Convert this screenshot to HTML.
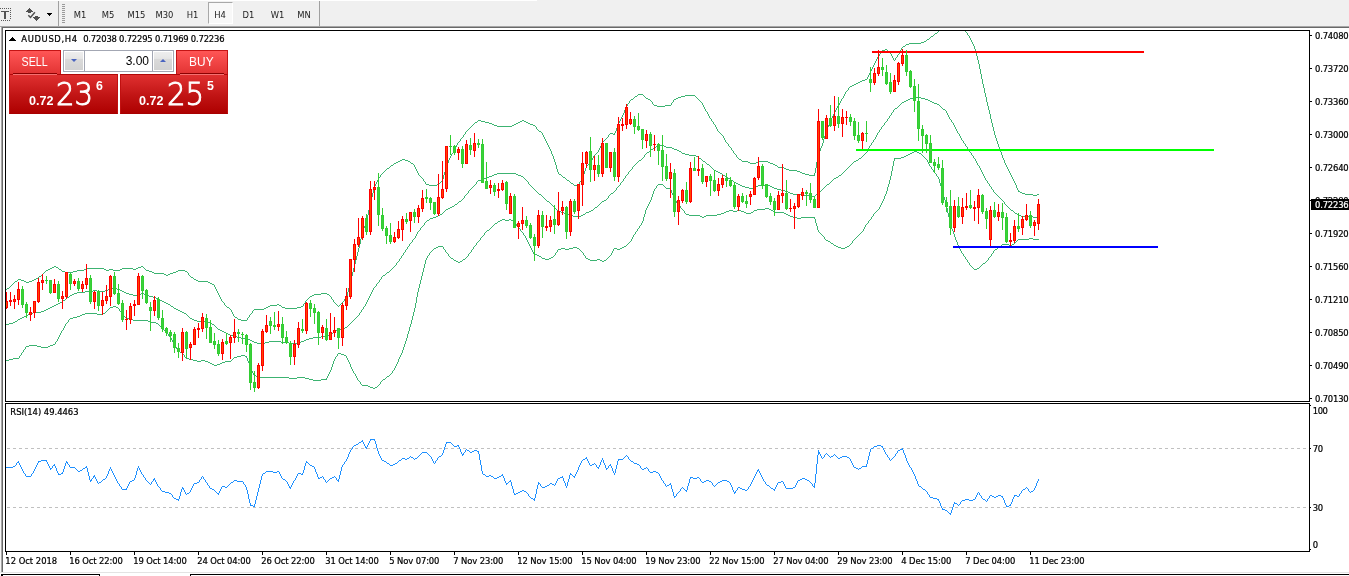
<!DOCTYPE html>
<html lang="en"><head><meta charset="utf-8"><title>AUDUSD,H4</title>
<style>
html,body{margin:0;padding:0;background:#fff;}
body{width:1349px;height:576px;overflow:hidden;font-family:"Liberation Sans",sans-serif;}
#app{position:relative;width:1349px;height:576px;overflow:hidden;background:#fff;}
#toolbar{position:absolute;left:0;top:0;width:1349px;height:26px;background:linear-gradient(#fff,#fff) 0 0/537px 1px no-repeat #f0f0f0;padding-top:1px;box-sizing:border-box;}
#tb-shadow{position:absolute;left:0;top:26px;width:1349px;height:2px;background:linear-gradient(#a6a6a6 0,#a6a6a6 1px,#696969 1px,#696969 2px);}
#left-edge{position:absolute;left:0;top:27px;width:3px;height:545px;background:linear-gradient(90deg,#f6f6f6 0,#f6f6f6 1px,#a6a6a6 1px,#a6a6a6 2px,#696969 2px,#696969 3px);}
.tf{position:absolute;top:2px;width:25px;height:22px;line-height:26px;text-align:center;font-family:"DejaVu Sans Condensed","Liberation Sans",sans-serif;font-size:9.33px;color:#222;box-sizing:border-box;}
.tf b{font-weight:normal;}
.tf.on{border:1px solid #a8a8a8;border-right-color:#fff;border-bottom-color:#fff;background:#f8f8f8;line-height:24px;}
.sep{position:absolute;top:1px;width:1px;height:25px;background:#a0a0a0;}
#grip{position:absolute;left:62px;top:4px;width:3px;height:20px;background:repeating-linear-gradient(#9a9a9a 0,#9a9a9a 1px,#f0f0f0 1px,#f0f0f0 2px);}
svg{position:absolute;left:0;top:0;}
svg text{font-family:"DejaVu Sans Condensed","Liberation Sans",sans-serif;}
.ax{font-size:9.33px;fill:#000;stroke:#000;stroke-width:0.22px;}
.lvl{fill:none;stroke:#c0c0c0;stroke-width:1;stroke-dasharray:3 3;shape-rendering:crispEdges;}
#chart path, #chart rect{shape-rendering:crispEdges;}
#panel{position:absolute;left:9px;top:50px;width:219px;height:64px;}
.btn-top{position:absolute;top:0;height:25px;width:52px;box-sizing:border-box;border:1px solid #c41414;border-bottom:0;background:linear-gradient(#ff5656,#e13232);color:#fff;font-size:12px;text-align:center;line-height:22px;}
.btn-top b{display:inline-block;font-weight:normal;transform:scaleX(0.92);}
.btn-top i{position:absolute;left:3px;right:3px;top:22px;height:1px;background:#8a0000;box-shadow:0 1px 0 #f47070;z-index:2;}
.btn-low{position:absolute;top:24px;height:40px;width:109px;box-sizing:border-box;border:1px solid #c01010;border-top-color:#b00808;border-bottom-color:#a80000;background:linear-gradient(#e03030,#c01414 55%,#ae0000);color:#fff;}
.sm{position:absolute;font-weight:bold;font-size:13px;line-height:13px;transform-origin:0 0;transform:scaleX(0.97);}
.big{position:absolute;font-family:"DejaVu Sans Light","DejaVu Sans ExtraLight","DejaVu Sans","Liberation Sans",sans-serif;font-weight:200;font-size:32.6px;line-height:34px;transform-origin:0 0;transform:scaleX(0.895);-webkit-text-stroke:1px #fff;}
.sup{position:absolute;font-weight:bold;font-size:13px;line-height:13px;transform-origin:0 0;transform:scaleX(0.95);}
#vol{position:absolute;left:54px;top:0;width:111px;height:22px;box-sizing:border-box;border:1px solid #a3a7b3;background:#fff;}
.spin{position:absolute;top:1px;width:18px;height:18px;background:linear-gradient(#eeeeee 0,#e6e6e6 36%,#dadada 37%,#d2d2d2 100%);}
.spin:after{content:"";position:absolute;left:6px;top:7px;border:3px solid transparent;}
.spin.dn:after{border-top:3px solid #4a64c0;border-bottom:0;}
.spin.up:after{border-bottom:3px solid #4a64c0;border-top:0;}
#volv{position:absolute;left:20px;top:0;width:69px;height:20px;border-left:1px solid #a3a7b3;border-right:1px solid #a3a7b3;font-size:12px;line-height:21px;text-align:right;padding-right:3px;box-sizing:border-box;color:#000;}
#bottom-line{position:absolute;left:0;top:572px;width:1349px;height:1px;background:#e3e3e3;}
.tabline{position:absolute;top:574px;height:1px;background:#000;}
</style></head>
<body>
<div id="app">
  <div id="toolbar">
    <svg width="60" height="26" viewBox="0 0 60 26" style="top:0" shape-rendering="crispEdges">
      <path d="M0 8h1v1h-1zM2 8h1v1h-1zM4 8h1v1h-1zM6 8h1v1h-1zM8 8h1v1h-1zM10 8h1v1h-1zM10 10h1v1h-1zM10 12h1v1h-1zM10 14h1v1h-1zM10 16h1v1h-1zM10 18h1v1h-1zM1 20h1v1h-1zM3 20h1v1h-1zM5 20h1v1h-1zM7 20h1v1h-1zM9 20h1v1h-1z" fill="#5a5a5a"/>
      <path d="M1 11h8v1h-8zM4 12h2v7h-2z" fill="#555"/>
      <path d="M29 8h1v1h-1zM28 9h3v1h-3zM27 10h5v1h-5zM26 11h7v1h-7zM28 12h3v1h-3z" fill="#505050"/>
      <path d="M35 16h3v1h-3zM33 17h7v1h-7zM34 18h5v1h-5zM35 19h3v1h-3zM36 20h1v1h-1z" fill="#505050"/>
      <path d="M28.3 15.3l2.2 2.2 4.4-5.2" fill="none" stroke="#505050" stroke-width="1.5" shape-rendering="auto"/>
      <path d="M47 13h5v1h-5zM48 14h3v1h-3zM49 15h1v1h-1z" fill="#000"/>
    </svg>
    <div class="sep" style="left:58px"></div>
    <div id="grip"></div>
    <span class="tf" style="left:67.5px"><b>M1</b></span><span class="tf" style="left:95.5px"><b>M5</b></span><span class="tf" style="left:124px"><b>M15</b></span><span class="tf" style="left:152px"><b>M30</b></span><span class="tf" style="left:180px"><b>H1</b></span><span class="tf on" style="left:207.5px"><b>H4</b></span><span class="tf" style="left:236px"><b>D1</b></span><span class="tf" style="left:265px"><b>W1</b></span><span class="tf" style="left:291.5px"><b>MN</b></span>
    <div class="sep" style="left:319px"></div>
  </div>
  <div id="tb-shadow"></div>
  <div id="left-edge"></div>
  <svg id="chart" width="1349" height="576" viewBox="0 0 1349 576">
<defs><clipPath id="cm"><rect x="6" y="31" width="1303" height="370"/></clipPath></defs>
<path fill="#3cb371" clip-path="url(#cm)" d="M6 289h1v1h-1zM7 288h2v1h-2zM9 287h1v1h-1zM10 286h1v1h-1zM11 285h1v1h-1zM12 284h1v1h-1zM13 283h1v1h-1zM14 282h1v1h-1zM15 281h2v1h-2zM17 280h1v1h-1zM18 279h3v1h-3zM21 280h3v1h-3zM24 281h2v1h-2zM26 282h3v1h-3zM29 281h3v1h-3zM32 280h2v1h-2zM34 279h2v1h-2zM36 278h2v1h-2zM38 277h1v1h-1zM39 276h2v1h-2zM41 275h1v1h-1zM42 274h1v1h-1zM43 273h1v1h-1zM44 272h1v1h-1zM45 271h1v1h-1zM46 270h2v1h-2zM48 269h2v1h-2zM50 268h2v1h-2zM52 267h2v1h-2zM54 266h2v1h-2zM56 267h2v1h-2zM58 268h1v1h-1zM59 269h2v1h-2zM61 270h1v1h-1zM62 271h3v1h-3zM65 272h8v1h-8zM73 271h4v1h-4zM77 270h7v1h-7zM84 269h2v1h-2zM86 268h18v1h-18zM104 269h2v1h-2zM106 270h3v1h-3zM109 269h4v1h-4zM113 270h7v1h-7zM120 269h2v1h-2zM122 268h11v1h-11zM133 269h3v1h-3zM136 268h2v1h-2zM138 267h3v1h-3zM141 266h2v1h-2zM143 267h1v1h-1zM144 268h1v1h-1zM145 269h1v1h-1zM146 270h3v1h-3zM149 271h3v1h-3zM152 272h2v1h-2zM154 273h10v1h-10zM164 274h2v1h-2zM166 275h2v1h-2zM168 274h2v1h-2zM170 273h3v1h-3zM173 272h3v1h-3zM176 271h2v1h-2zM178 270h7v1h-7zM185 271h2v1h-2zM187 272h1v1h-1zM188 273h1v2h-1zM189 275h1v1h-1zM190 276h1v1h-1zM191 277h2v1h-2zM193 278h1v1h-1zM194 279h2v1h-2zM196 280h2v1h-2zM198 281h10v1h-10zM208 282h2v1h-2zM210 283h2v1h-2zM212 284h2v1h-2zM214 285h1v2h-1zM215 287h1v2h-1zM216 289h1v2h-1zM217 291h1v2h-1zM218 293h1v2h-1zM219 295h1v2h-1zM220 297h1v2h-1zM221 299h1v2h-1zM222 301h1v1h-1zM223 302h1v1h-1zM224 303h1v2h-1zM225 305h1v1h-1zM226 306h1v1h-1zM227 307h2v1h-2zM229 308h1v1h-1zM230 309h1v1h-1zM231 310h1v2h-1zM232 312h1v2h-1zM233 314h1v2h-1zM234 316h1v1h-1zM235 317h2v1h-2zM237 318h1v1h-1zM238 319h3v1h-3zM241 320h6v1h-6zM247 318h1v2h-1zM248 317h1v1h-1zM249 315h1v2h-1zM250 314h1v1h-1zM251 313h1v1h-1zM252 311h1v2h-1zM253 310h1v1h-1zM254 309h10v1h-10zM264 308h2v1h-2zM266 307h2v1h-2zM268 306h2v1h-2zM270 305h7v1h-7zM277 304h2v1h-2zM279 305h2v1h-2zM281 306h1v1h-1zM282 307h3v1h-3zM285 308h12v1h-12zM297 307h4v1h-4zM301 306h2v1h-2zM303 304h1v2h-1zM304 303h1v1h-1zM305 301h1v2h-1zM306 300h1v1h-1zM307 299h1v1h-1zM308 298h1v1h-1zM309 297h1v1h-1zM310 296h2v1h-2zM312 295h2v1h-2zM314 294h7v1h-7zM321 293h6v1h-6zM327 294h2v1h-2zM329 295h1v1h-1zM330 296h1v1h-1zM331 297h1v2h-1zM332 299h1v1h-1zM333 300h1v2h-1zM334 302h1v1h-1zM335 303h1v1h-1zM336 304h1v1h-1zM337 305h1v1h-1zM338 306h1v1h-1zM339 305h1v1h-1zM340 304h1v1h-1zM341 303h1v1h-1zM342 302h1v1h-1zM343 301h1v1h-1zM344 299h1v2h-1zM345 298h1v1h-1zM346 296h1v2h-1zM347 292h1v4h-1zM348 288h1v4h-1zM349 284h1v4h-1zM350 280h1v4h-1zM351 276h1v4h-1zM352 272h1v4h-1zM353 268h1v4h-1zM354 264h1v4h-1zM355 260h1v4h-1zM356 256h1v4h-1zM357 252h1v4h-1zM358 248h1v4h-1zM359 244h1v4h-1zM360 239h1v5h-1zM361 235h1v4h-1zM362 231h1v4h-1zM363 228h1v3h-1zM364 226h1v2h-1zM365 223h1v3h-1zM366 219h1v4h-1zM367 215h1v4h-1zM368 210h1v5h-1zM369 206h1v4h-1zM370 201h1v5h-1zM371 197h1v4h-1zM372 193h1v4h-1zM373 189h1v4h-1zM374 186h1v3h-1zM375 184h1v2h-1zM376 182h1v2h-1zM377 180h1v2h-1zM378 178h1v2h-1zM379 177h1v1h-1zM380 175h1v2h-1zM381 174h1v1h-1zM382 173h1v1h-1zM383 172h1v1h-1zM384 171h1v1h-1zM385 170h1v1h-1zM386 169h1v1h-1zM387 168h2v1h-2zM389 167h1v1h-1zM390 166h1v1h-1zM391 165h2v1h-2zM393 164h1v1h-1zM394 163h2v1h-2zM396 162h2v1h-2zM398 161h2v1h-2zM400 160h2v1h-2zM402 159h3v1h-3zM405 160h3v1h-3zM408 161h2v1h-2zM410 162h1v1h-1zM411 163h2v1h-2zM413 164h1v1h-1zM414 165h1v2h-1zM415 167h1v2h-1zM416 169h1v2h-1zM417 171h1v2h-1zM418 173h1v2h-1zM419 175h1v1h-1zM420 176h1v1h-1zM421 177h1v1h-1zM422 178h1v1h-1zM423 179h1v2h-1zM424 181h1v1h-1zM425 182h1v2h-1zM426 184h3v1h-3zM429 185h8v1h-8zM437 184h2v1h-2zM439 183h1v1h-1zM440 182h1v1h-1zM441 181h1v1h-1zM442 179h1v2h-1zM443 175h1v4h-1zM444 172h1v3h-1zM445 168h1v4h-1zM446 165h1v3h-1zM447 163h1v2h-1zM448 160h1v3h-1zM449 158h1v2h-1zM450 156h1v2h-1zM451 154h1v2h-1zM452 153h1v1h-1zM453 151h1v2h-1zM454 149h1v2h-1zM455 147h1v2h-1zM456 145h1v2h-1zM457 143h1v2h-1zM458 142h1v1h-1zM459 141h1v1h-1zM460 139h1v2h-1zM461 138h1v1h-1zM462 137h1v1h-1zM463 135h1v2h-1zM464 134h1v1h-1zM465 132h1v2h-1zM466 131h1v1h-1zM467 130h1v1h-1zM468 129h1v1h-1zM469 128h1v1h-1zM470 127h1v1h-1zM471 126h1v1h-1zM472 125h1v1h-1zM473 124h1v1h-1zM474 123h1v1h-1zM475 122h2v1h-2zM477 121h1v1h-1zM478 120h3v1h-3zM481 121h4v1h-4zM485 122h4v1h-4zM489 123h3v1h-3zM492 124h2v1h-2zM494 125h3v1h-3zM497 126h15v1h-15zM512 125h2v1h-2zM514 124h2v1h-2zM516 123h2v1h-2zM518 122h2v1h-2zM520 121h2v1h-2zM522 120h2v1h-2zM524 121h2v1h-2zM526 122h2v1h-2zM528 123h2v1h-2zM530 124h3v1h-3zM533 125h2v1h-2zM535 126h1v1h-1zM536 127h1v2h-1zM537 129h1v1h-1zM538 130h1v1h-1zM539 131h2v1h-2zM541 132h1v1h-1zM542 133h1v2h-1zM543 135h1v2h-1zM544 137h1v2h-1zM545 139h1v2h-1zM546 141h1v2h-1zM547 143h1v2h-1zM548 145h1v2h-1zM549 147h1v2h-1zM550 149h1v2h-1zM551 151h1v3h-1zM552 154h1v2h-1zM553 156h1v3h-1zM554 159h1v3h-1zM555 162h1v3h-1zM556 165h1v4h-1zM557 169h1v3h-1zM558 172h1v2h-1zM559 174h2v1h-2zM561 175h1v1h-1zM562 176h1v1h-1zM563 177h2v1h-2zM565 178h1v1h-1zM566 179h1v1h-1zM567 180h2v1h-2zM569 181h1v1h-1zM570 182h1v1h-1zM571 183h2v1h-2zM573 184h1v1h-1zM574 185h3v1h-3zM577 184h2v1h-2zM579 182h1v2h-1zM580 181h1v1h-1zM581 179h1v2h-1zM582 177h1v2h-1zM583 174h1v3h-1zM584 171h1v3h-1zM585 168h1v3h-1zM586 166h1v2h-1zM587 165h1v1h-1zM588 164h1v1h-1zM589 163h1v1h-1zM590 162h1v1h-1zM591 160h1v2h-1zM592 158h1v2h-1zM593 156h1v2h-1zM594 155h1v1h-1zM595 154h1v1h-1zM596 153h1v1h-1zM597 152h1v1h-1zM598 150h1v2h-1zM599 148h1v2h-1zM600 146h1v2h-1zM601 144h1v2h-1zM602 142h1v2h-1zM603 141h1v1h-1zM604 140h1v1h-1zM605 139h1v1h-1zM606 138h1v1h-1zM607 137h1v1h-1zM608 135h1v2h-1zM609 134h1v1h-1zM610 133h3v1h-3zM613 134h1v1h-1zM614 133h1v2h-1zM615 131h1v2h-1zM616 128h1v3h-1zM617 126h1v2h-1zM618 123h1v3h-1zM619 121h1v2h-1zM620 119h1v2h-1zM621 117h1v2h-1zM622 115h1v2h-1zM623 113h1v2h-1zM624 110h1v3h-1zM625 108h1v2h-1zM626 106h1v2h-1zM627 104h1v2h-1zM628 103h1v1h-1zM629 101h1v2h-1zM630 100h1v1h-1zM631 99h2v1h-2zM633 98h1v1h-1zM634 97h1v1h-1zM635 96h2v1h-2zM637 95h1v1h-1zM638 94h5v1h-5zM643 95h1v1h-1zM644 96h1v1h-1zM645 97h1v1h-1zM646 98h2v1h-2zM648 99h2v1h-2zM650 100h1v1h-1zM651 101h1v1h-1zM652 102h1v2h-1zM653 104h1v1h-1zM654 105h3v1h-3zM657 106h8v1h-8zM665 105h6v1h-6zM671 103h1v2h-1zM672 102h1v1h-1zM673 100h1v2h-1zM674 99h2v1h-2zM676 98h2v1h-2zM678 97h3v1h-3zM681 96h4v1h-4zM685 95h10v1h-10zM695 96h1v1h-1zM696 97h1v1h-1zM697 98h1v1h-1zM698 99h1v1h-1zM699 100h1v1h-1zM700 101h1v1h-1zM701 102h1v1h-1zM702 103h1v2h-1zM703 105h1v2h-1zM704 107h1v2h-1zM705 109h1v2h-1zM706 111h1v1h-1zM707 112h1v2h-1zM708 114h1v2h-1zM709 116h1v2h-1zM710 118h1v1h-1zM711 119h1v2h-1zM712 121h1v1h-1zM713 122h1v2h-1zM714 124h1v1h-1zM715 125h1v2h-1zM716 127h1v2h-1zM717 129h1v2h-1zM718 131h1v1h-1zM719 132h1v1h-1zM720 133h1v1h-1zM721 134h1v1h-1zM722 135h1v1h-1zM723 136h1v2h-1zM724 138h1v2h-1zM725 140h1v2h-1zM726 142h1v1h-1zM727 143h1v1h-1zM728 144h1v2h-1zM729 146h1v1h-1zM730 147h1v1h-1zM731 148h1v2h-1zM732 150h1v1h-1zM733 151h1v2h-1zM734 153h1v1h-1zM735 154h1v1h-1zM736 155h1v2h-1zM737 157h1v1h-1zM738 158h1v1h-1zM739 159h2v1h-2zM741 160h1v1h-1zM742 161h6v1h-6zM748 162h2v1h-2zM750 163h6v1h-6zM756 162h2v1h-2zM758 161h10v1h-10zM768 162h2v1h-2zM770 163h3v1h-3zM773 164h2v1h-2zM775 165h2v1h-2zM777 166h1v1h-1zM778 167h6v1h-6zM784 168h2v1h-2zM786 169h3v1h-3zM789 170h8v1h-8zM797 171h3v1h-3zM800 172h2v1h-2zM802 173h3v1h-3zM805 174h4v1h-4zM809 175h5v1h-5zM814 173h1v3h-1zM815 168h1v5h-1zM816 162h1v6h-1zM817 157h1v5h-1zM818 153h1v4h-1zM819 151h1v2h-1zM820 148h1v3h-1zM821 146h1v2h-1zM822 143h1v3h-1zM823 139h1v4h-1zM824 136h1v3h-1zM825 132h1v4h-1zM826 129h1v3h-1zM827 127h1v2h-1zM828 125h1v2h-1zM829 123h1v2h-1zM830 120h1v3h-1zM831 118h1v2h-1zM832 116h1v2h-1zM833 114h1v2h-1zM834 112h1v2h-1zM835 110h1v2h-1zM836 108h1v2h-1zM837 106h1v2h-1zM838 105h1v1h-1zM839 103h1v2h-1zM840 101h1v2h-1zM841 99h1v2h-1zM842 98h1v1h-1zM843 96h1v2h-1zM844 94h1v2h-1zM845 92h1v2h-1zM846 91h1v1h-1zM847 90h1v1h-1zM848 88h1v2h-1zM849 87h1v1h-1zM850 86h2v1h-2zM852 85h2v1h-2zM854 84h2v1h-2zM856 83h2v1h-2zM858 82h2v1h-2zM860 81h2v1h-2zM862 80h3v1h-3zM865 79h2v1h-2zM867 77h1v2h-1zM868 75h1v2h-1zM869 73h1v2h-1zM870 71h1v2h-1zM871 69h1v2h-1zM872 67h1v2h-1zM873 65h1v2h-1zM874 63h1v2h-1zM875 61h1v2h-1zM876 59h1v2h-1zM877 57h1v2h-1zM878 56h1v1h-1zM879 54h1v2h-1zM880 53h1v1h-1zM881 51h1v2h-1zM882 50h3v1h-3zM885 49h2v1h-2zM887 50h1v1h-1zM888 51h1v1h-1zM889 52h1v1h-1zM890 53h1v1h-1zM891 54h1v2h-1zM892 56h1v2h-1zM893 58h1v2h-1zM894 60h1v1h-1zM895 58h1v2h-1zM896 57h1v1h-1zM897 55h1v2h-1zM898 54h1v1h-1zM899 52h1v2h-1zM900 50h1v2h-1zM901 48h1v2h-1zM902 47h1v1h-1zM903 46h2v1h-2zM905 45h1v1h-1zM906 44h3v1h-3zM909 43h12v1h-12zM921 42h3v1h-3zM924 41h2v1h-2zM926 40h1v1h-1zM927 39h2v1h-2zM929 38h1v1h-1zM930 37h1v1h-1zM931 36h2v1h-2zM933 35h1v1h-1zM934 34h1v1h-1zM935 33h2v1h-2zM937 32h1v1h-1zM938 31h1v1h-1zM939 29h1v2h-1zM940 27h1v2h-1zM941 25h1v2h-1zM942 24h1v1h-1zM943 22h1v2h-1zM944 21h1v1h-1zM945 19h1v2h-1zM946 18h1v1h-1zM947 17h1v1h-1zM948 16h1v1h-1zM949 15h1v1h-1zM950 14h2v1h-2zM952 15h2v1h-2zM954 16h1v1h-1zM955 17h1v1h-1zM956 18h1v1h-1zM957 19h1v1h-1zM958 20h1v1h-1zM959 21h1v2h-1zM960 23h1v1h-1zM961 24h1v2h-1zM962 26h1v1h-1zM963 27h1v2h-1zM964 29h1v1h-1zM965 30h1v2h-1zM966 32h1v1h-1zM967 33h1v2h-1zM968 35h1v1h-1zM969 36h1v2h-1zM970 38h1v2h-1zM971 40h1v2h-1zM972 42h1v2h-1zM973 44h1v2h-1zM974 46h1v3h-1zM975 49h1v4h-1zM976 53h1v3h-1zM977 56h1v4h-1zM978 60h1v4h-1zM979 64h1v5h-1zM980 69h1v5h-1zM981 74h1v5h-1zM982 79h1v5h-1zM983 84h1v4h-1zM984 88h1v5h-1zM985 93h1v4h-1zM986 97h1v5h-1zM987 102h1v4h-1zM988 106h1v4h-1zM989 110h1v4h-1zM990 114h1v5h-1zM991 119h1v4h-1zM992 123h1v4h-1zM993 127h1v4h-1zM994 131h1v4h-1zM995 135h1v3h-1zM996 138h1v3h-1zM997 141h1v3h-1zM998 144h1v3h-1zM999 147h1v3h-1zM1000 150h1v2h-1zM1001 152h1v3h-1zM1002 155h1v3h-1zM1003 158h1v2h-1zM1004 160h1v3h-1zM1005 163h1v2h-1zM1006 165h1v2h-1zM1007 167h1v2h-1zM1008 169h1v2h-1zM1009 171h1v2h-1zM1010 173h1v2h-1zM1011 175h1v2h-1zM1012 177h1v2h-1zM1013 179h1v2h-1zM1014 181h1v2h-1zM1015 183h1v2h-1zM1016 185h1v3h-1zM1017 188h1v2h-1zM1018 190h1v2h-1zM1019 191h1v1h-1zM1020 192h2v1h-2zM1022 193h3v1h-3zM1025 194h8v1h-8zM1033 195h4v1h-4zM1037 194h2v1h-2z"/>
<path fill="#3cb371" clip-path="url(#cm)" d="M6 324h3v1h-3zM9 323h4v1h-4zM13 322h2v1h-2zM15 321h2v1h-2zM17 320h1v1h-1zM18 319h2v1h-2zM20 318h2v1h-2zM22 317h2v1h-2zM24 316h2v1h-2zM26 315h2v1h-2zM28 314h2v1h-2zM30 313h3v1h-3zM33 312h8v1h-8zM41 311h3v1h-3zM44 310h2v1h-2zM46 309h2v1h-2zM48 308h2v1h-2zM50 307h2v1h-2zM52 306h2v1h-2zM54 305h2v1h-2zM56 304h2v1h-2zM58 303h2v1h-2zM60 302h2v1h-2zM62 301h1v1h-1zM63 300h2v1h-2zM65 299h1v1h-1zM66 298h1v1h-1zM67 297h2v1h-2zM69 296h1v1h-1zM70 295h2v1h-2zM72 294h2v1h-2zM74 293h3v1h-3zM77 292h8v1h-8zM85 291h8v1h-8zM93 290h4v1h-4zM97 291h8v1h-8zM105 290h3v1h-3zM108 289h2v1h-2zM110 288h7v1h-7zM117 289h3v1h-3zM120 290h2v1h-2zM122 291h2v1h-2zM124 292h2v1h-2zM126 293h3v1h-3zM129 294h4v1h-4zM133 295h4v1h-4zM137 294h4v1h-4zM141 293h3v1h-3zM144 294h2v1h-2zM146 295h3v1h-3zM149 296h4v1h-4zM153 297h3v1h-3zM156 298h2v1h-2zM158 299h2v1h-2zM160 300h2v1h-2zM162 301h2v1h-2zM164 302h2v1h-2zM166 303h2v1h-2zM168 304h2v1h-2zM170 305h1v1h-1zM171 306h2v1h-2zM173 307h1v1h-1zM174 308h2v1h-2zM176 309h2v1h-2zM178 310h2v1h-2zM180 311h2v1h-2zM182 312h2v1h-2zM184 313h2v1h-2zM186 314h1v1h-1zM187 315h1v1h-1zM188 316h1v1h-1zM189 317h1v1h-1zM190 318h2v1h-2zM192 319h2v1h-2zM194 320h3v1h-3zM197 321h11v1h-11zM208 322h2v1h-2zM210 323h2v1h-2zM212 324h2v1h-2zM214 325h1v1h-1zM215 326h1v1h-1zM216 327h1v1h-1zM217 328h1v1h-1zM218 329h2v1h-2zM220 330h2v1h-2zM222 331h2v1h-2zM224 332h2v1h-2zM226 333h2v1h-2zM228 334h2v1h-2zM230 335h3v1h-3zM233 336h4v1h-4zM237 337h4v1h-4zM241 338h7v1h-7zM248 339h2v1h-2zM250 340h2v1h-2zM252 341h2v1h-2zM254 342h3v1h-3zM257 343h8v1h-8zM265 342h4v1h-4zM269 341h12v1h-12zM281 342h8v1h-8zM289 343h8v1h-8zM297 342h4v1h-4zM301 341h3v1h-3zM304 340h2v1h-2zM306 339h3v1h-3zM309 338h4v1h-4zM313 337h8v1h-8zM321 336h7v1h-7zM328 335h2v1h-2zM330 334h1v1h-1zM331 333h2v1h-2zM333 332h1v1h-1zM334 331h2v1h-2zM336 330h2v1h-2zM338 329h3v1h-3zM341 328h4v1h-4zM345 327h2v1h-2zM347 326h1v1h-1zM348 325h1v1h-1zM349 324h1v1h-1zM350 323h1v1h-1zM351 322h1v1h-1zM352 321h1v1h-1zM353 320h1v1h-1zM354 319h1v1h-1zM355 318h1v1h-1zM356 317h1v1h-1zM357 316h1v1h-1zM358 315h1v1h-1zM359 313h1v2h-1zM360 312h1v1h-1zM361 310h1v2h-1zM362 309h1v1h-1zM363 307h1v2h-1zM364 306h1v1h-1zM365 304h1v2h-1zM366 302h1v2h-1zM367 300h1v2h-1zM368 298h1v2h-1zM369 296h1v2h-1zM370 294h1v2h-1zM371 292h1v2h-1zM372 290h1v2h-1zM373 288h1v2h-1zM374 287h1v1h-1zM375 286h1v1h-1zM376 284h1v2h-1zM377 283h1v1h-1zM378 282h1v1h-1zM379 280h1v2h-1zM380 279h1v1h-1zM381 277h1v2h-1zM382 276h1v1h-1zM383 275h2v1h-2zM385 274h1v1h-1zM386 273h1v1h-1zM387 272h2v1h-2zM389 271h1v1h-1zM390 270h1v1h-1zM391 269h1v1h-1zM392 268h1v1h-1zM393 267h1v1h-1zM394 266h1v1h-1zM395 265h1v1h-1zM396 263h1v2h-1zM397 262h1v1h-1zM398 261h1v1h-1zM399 259h1v2h-1zM400 258h1v1h-1zM401 256h1v2h-1zM402 255h1v1h-1zM403 253h1v2h-1zM404 252h1v1h-1zM405 250h1v2h-1zM406 249h1v1h-1zM407 247h1v2h-1zM408 246h1v1h-1zM409 244h1v2h-1zM410 243h1v1h-1zM411 242h1v1h-1zM412 240h1v2h-1zM413 239h1v1h-1zM414 238h1v1h-1zM415 236h1v2h-1zM416 234h1v2h-1zM417 232h1v2h-1zM418 231h1v1h-1zM419 230h1v1h-1zM420 228h1v2h-1zM421 227h1v1h-1zM422 226h1v1h-1zM423 225h1v1h-1zM424 223h1v2h-1zM425 222h1v1h-1zM426 221h1v1h-1zM427 220h2v1h-2zM429 219h1v1h-1zM430 218h3v1h-3zM433 217h3v1h-3zM436 216h2v1h-2zM438 215h2v1h-2zM440 214h2v1h-2zM442 213h1v1h-1zM443 212h1v1h-1zM444 211h1v1h-1zM445 210h1v1h-1zM446 209h2v1h-2zM448 208h2v1h-2zM450 207h2v1h-2zM452 206h2v1h-2zM454 205h1v1h-1zM455 204h2v1h-2zM457 203h1v1h-1zM458 202h1v1h-1zM459 201h2v1h-2zM461 200h1v1h-1zM462 199h1v1h-1zM463 198h1v1h-1zM464 196h1v2h-1zM465 195h1v1h-1zM466 194h1v1h-1zM467 193h1v1h-1zM468 191h1v2h-1zM469 190h1v1h-1zM470 189h1v1h-1zM471 188h1v1h-1zM472 187h1v1h-1zM473 186h1v1h-1zM474 185h1v1h-1zM475 184h1v1h-1zM476 182h1v2h-1zM477 181h1v1h-1zM478 180h3v1h-3zM481 179h3v1h-3zM484 178h2v1h-2zM486 177h3v1h-3zM489 176h3v1h-3zM492 175h2v1h-2zM494 174h3v1h-3zM497 173h19v1h-19zM516 174h2v1h-2zM518 175h3v1h-3zM521 176h2v1h-2zM523 177h1v1h-1zM524 178h1v1h-1zM525 179h1v1h-1zM526 180h1v1h-1zM527 181h1v1h-1zM528 182h1v2h-1zM529 184h1v1h-1zM530 185h1v1h-1zM531 186h1v1h-1zM532 187h1v1h-1zM533 188h1v1h-1zM534 189h1v1h-1zM535 190h1v1h-1zM536 191h1v1h-1zM537 192h1v1h-1zM538 193h1v1h-1zM539 194h2v1h-2zM541 195h1v1h-1zM542 196h1v1h-1zM543 197h1v1h-1zM544 198h1v1h-1zM545 199h1v1h-1zM546 200h1v1h-1zM547 201h2v1h-2zM549 202h1v1h-1zM550 203h1v1h-1zM551 204h1v1h-1zM552 205h1v1h-1zM553 206h1v1h-1zM554 207h1v1h-1zM555 208h1v1h-1zM556 209h1v1h-1zM557 210h1v1h-1zM558 211h3v1h-3zM561 212h3v1h-3zM564 213h2v1h-2zM566 214h3v1h-3zM569 215h4v1h-4zM573 216h8v1h-8zM581 215h2v1h-2zM583 214h2v1h-2zM585 213h1v1h-1zM586 212h3v1h-3zM589 211h2v1h-2zM591 210h2v1h-2zM593 209h1v1h-1zM594 208h1v1h-1zM595 207h2v1h-2zM597 206h1v1h-1zM598 205h1v1h-1zM599 204h1v1h-1zM600 203h1v1h-1zM601 202h1v1h-1zM602 201h2v1h-2zM604 200h2v1h-2zM606 199h1v1h-1zM607 198h1v1h-1zM608 196h1v2h-1zM609 195h1v1h-1zM610 194h1v1h-1zM611 193h2v1h-2zM613 192h1v1h-1zM614 191h1v1h-1zM615 190h1v1h-1zM616 188h1v2h-1zM617 187h1v1h-1zM618 186h1v1h-1zM619 185h1v1h-1zM620 183h1v2h-1zM621 182h1v1h-1zM622 181h1v1h-1zM623 179h1v2h-1zM624 178h1v1h-1zM625 176h1v2h-1zM626 175h1v1h-1zM627 174h1v1h-1zM628 172h1v2h-1zM629 171h1v1h-1zM630 170h1v1h-1zM631 169h1v1h-1zM632 167h1v2h-1zM633 166h1v1h-1zM634 165h1v1h-1zM635 164h1v1h-1zM636 163h1v1h-1zM637 162h1v1h-1zM638 161h1v1h-1zM639 160h2v1h-2zM641 159h1v1h-1zM642 158h1v1h-1zM643 157h1v1h-1zM644 155h1v2h-1zM645 154h1v1h-1zM646 153h1v1h-1zM647 152h2v1h-2zM649 151h1v1h-1zM650 150h1v1h-1zM651 149h2v1h-2zM653 148h1v1h-1zM654 147h2v1h-2zM656 146h2v1h-2zM658 145h6v1h-6zM664 146h2v1h-2zM666 147h6v1h-6zM672 148h2v1h-2zM674 149h3v1h-3zM677 150h2v1h-2zM679 151h2v1h-2zM681 152h1v1h-1zM682 153h3v1h-3zM685 154h4v1h-4zM689 155h7v1h-7zM696 156h2v1h-2zM698 157h1v1h-1zM699 158h2v1h-2zM701 159h1v1h-1zM702 160h1v1h-1zM703 161h2v1h-2zM705 162h1v1h-1zM706 163h1v1h-1zM707 164h2v1h-2zM709 165h1v1h-1zM710 166h1v1h-1zM711 167h1v1h-1zM712 168h1v1h-1zM713 169h1v1h-1zM714 170h2v1h-2zM716 171h2v1h-2zM718 172h2v1h-2zM720 173h2v1h-2zM722 174h1v1h-1zM723 175h2v1h-2zM725 176h1v1h-1zM726 177h2v1h-2zM728 178h2v1h-2zM730 179h1v1h-1zM731 180h2v1h-2zM733 181h1v1h-1zM734 182h2v1h-2zM736 183h2v1h-2zM738 184h2v1h-2zM740 185h2v1h-2zM742 186h3v1h-3zM745 187h4v1h-4zM749 188h4v1h-4zM753 187h3v1h-3zM756 186h2v1h-2zM758 185h7v1h-7zM765 184h3v1h-3zM768 185h2v1h-2zM770 186h2v1h-2zM772 187h2v1h-2zM774 188h3v1h-3zM777 189h4v1h-4zM781 190h4v1h-4zM785 191h3v1h-3zM788 192h2v1h-2zM790 193h3v1h-3zM793 194h8v1h-8zM801 195h8v1h-8zM809 196h6v1h-6zM815 195h1v1h-1zM816 194h1v1h-1zM817 193h1v1h-1zM818 192h1v1h-1zM819 191h2v1h-2zM821 190h1v1h-1zM822 189h1v1h-1zM823 188h1v1h-1zM824 187h1v1h-1zM825 186h1v1h-1zM826 185h1v1h-1zM827 184h2v1h-2zM829 183h1v1h-1zM830 182h1v1h-1zM831 181h1v1h-1zM832 180h1v1h-1zM833 179h1v1h-1zM834 178h2v1h-2zM836 177h2v1h-2zM838 176h1v1h-1zM839 175h2v1h-2zM841 174h1v1h-1zM842 173h1v1h-1zM843 172h1v1h-1zM844 171h1v1h-1zM845 170h1v1h-1zM846 169h1v1h-1zM847 168h1v1h-1zM848 167h1v1h-1zM849 166h1v1h-1zM850 165h1v1h-1zM851 164h1v1h-1zM852 163h1v1h-1zM853 162h1v1h-1zM854 161h2v1h-2zM856 160h2v1h-2zM858 159h1v1h-1zM859 158h2v1h-2zM861 157h1v1h-1zM862 156h1v1h-1zM863 155h1v1h-1zM864 154h1v1h-1zM865 153h1v1h-1zM866 152h1v1h-1zM867 150h1v2h-1zM868 148h1v2h-1zM869 146h1v2h-1zM870 145h1v1h-1zM871 143h1v2h-1zM872 142h1v1h-1zM873 140h1v2h-1zM874 139h1v1h-1zM875 137h1v2h-1zM876 135h1v2h-1zM877 133h1v2h-1zM878 132h1v1h-1zM879 130h1v2h-1zM880 129h1v1h-1zM881 127h1v2h-1zM882 126h1v1h-1zM883 125h1v1h-1zM884 123h1v2h-1zM885 122h1v1h-1zM886 121h1v1h-1zM887 119h1v2h-1zM888 118h1v1h-1zM889 116h1v2h-1zM890 115h1v1h-1zM891 113h1v2h-1zM892 112h1v1h-1zM893 110h1v2h-1zM894 109h1v1h-1zM895 108h2v1h-2zM897 107h1v1h-1zM898 106h1v1h-1zM899 105h1v1h-1zM900 104h1v1h-1zM901 103h1v1h-1zM902 102h2v1h-2zM904 101h2v1h-2zM906 100h2v1h-2zM908 99h2v1h-2zM910 98h3v1h-3zM913 97h8v1h-8zM921 98h4v1h-4zM925 99h3v1h-3zM928 100h2v1h-2zM930 101h2v1h-2zM932 102h2v1h-2zM934 103h3v1h-3zM937 104h2v1h-2zM939 105h1v1h-1zM940 106h1v1h-1zM941 107h1v1h-1zM942 108h1v1h-1zM943 109h2v1h-2zM945 110h1v1h-1zM946 111h1v2h-1zM947 113h1v2h-1zM948 115h1v2h-1zM949 117h1v2h-1zM950 119h1v1h-1zM951 120h1v2h-1zM952 122h1v1h-1zM953 123h1v2h-1zM954 125h1v2h-1zM955 127h1v2h-1zM956 129h1v2h-1zM957 131h1v2h-1zM958 133h1v1h-1zM959 134h1v2h-1zM960 136h1v2h-1zM961 138h1v2h-1zM962 140h1v1h-1zM963 141h1v2h-1zM964 143h1v1h-1zM965 144h1v2h-1zM966 146h1v1h-1zM967 147h1v2h-1zM968 149h1v1h-1zM969 150h1v2h-1zM970 152h1v1h-1zM971 153h1v2h-1zM972 155h1v1h-1zM973 156h1v2h-1zM974 158h1v1h-1zM975 159h1v2h-1zM976 161h1v2h-1zM977 163h1v2h-1zM978 165h1v1h-1zM979 166h1v2h-1zM980 168h1v2h-1zM981 170h1v2h-1zM982 172h1v2h-1zM983 174h1v2h-1zM984 176h1v2h-1zM985 178h1v2h-1zM986 180h1v1h-1zM987 181h1v2h-1zM988 183h1v1h-1zM989 184h1v2h-1zM990 186h1v1h-1zM991 187h1v2h-1zM992 189h1v1h-1zM993 190h1v2h-1zM994 192h1v1h-1zM995 193h1v1h-1zM996 194h1v1h-1zM997 195h1v1h-1zM998 196h1v1h-1zM999 197h1v1h-1zM1000 198h1v1h-1zM1001 199h1v1h-1zM1002 200h1v1h-1zM1003 201h1v1h-1zM1004 202h1v2h-1zM1005 204h1v1h-1zM1006 205h1v1h-1zM1007 206h1v1h-1zM1008 207h1v1h-1zM1009 208h1v1h-1zM1010 209h1v1h-1zM1011 210h2v1h-2zM1013 211h1v1h-1zM1014 212h1v1h-1zM1015 213h2v1h-2zM1017 214h1v1h-1zM1018 215h3v1h-3zM1021 216h12v1h-12zM1033 217h4v1h-4zM1037 216h2v1h-2z"/>
<path fill="#3cb371" clip-path="url(#cm)" d="M6 360h3v1h-3zM9 359h4v1h-4zM13 358h6v1h-6zM19 356h1v2h-1zM20 355h1v1h-1zM21 353h1v2h-1zM22 352h1v1h-1zM23 350h1v2h-1zM24 349h1v1h-1zM25 347h1v2h-1zM26 346h3v1h-3zM29 345h8v1h-8zM37 346h4v1h-4zM41 347h7v1h-7zM48 346h2v1h-2zM50 345h3v1h-3zM53 344h2v1h-2zM55 342h1v2h-1zM56 341h1v1h-1zM57 339h1v2h-1zM58 337h1v2h-1zM59 335h1v2h-1zM60 333h1v2h-1zM61 331h1v2h-1zM62 330h1v1h-1zM63 328h1v2h-1zM64 326h1v2h-1zM65 324h1v2h-1zM66 323h1v1h-1zM67 322h1v1h-1zM68 320h1v2h-1zM69 319h1v1h-1zM70 318h3v1h-3zM73 317h4v1h-4zM77 316h3v1h-3zM80 315h2v1h-2zM82 314h3v1h-3zM85 313h12v1h-12zM97 314h6v1h-6zM103 313h2v1h-2zM105 312h1v1h-1zM106 311h1v1h-1zM107 310h1v1h-1zM108 309h1v1h-1zM109 308h1v1h-1zM110 307h3v1h-3zM113 306h3v1h-3zM116 307h2v1h-2zM118 308h1v1h-1zM119 309h1v2h-1zM120 311h1v1h-1zM121 312h1v2h-1zM122 314h1v1h-1zM123 315h1v1h-1zM124 316h1v1h-1zM125 317h1v1h-1zM126 318h3v1h-3zM129 319h4v1h-4zM133 320h15v1h-15zM148 321h2v1h-2zM150 322h6v1h-6zM156 323h2v1h-2zM158 324h1v1h-1zM159 325h1v1h-1zM160 326h1v1h-1zM161 327h1v1h-1zM162 328h1v1h-1zM163 329h1v1h-1zM164 330h1v1h-1zM165 331h1v1h-1zM166 332h1v1h-1zM167 333h1v1h-1zM168 334h1v2h-1zM169 336h1v1h-1zM170 337h1v1h-1zM171 338h1v2h-1zM172 340h1v2h-1zM173 342h1v2h-1zM174 344h1v1h-1zM175 345h1v2h-1zM176 347h1v2h-1zM177 349h1v2h-1zM178 351h2v1h-2zM180 352h2v1h-2zM182 353h1v1h-1zM183 354h1v1h-1zM184 355h1v2h-1zM185 357h1v1h-1zM186 358h3v1h-3zM189 359h4v1h-4zM193 360h4v1h-4zM197 361h4v1h-4zM201 360h4v1h-4zM205 361h3v1h-3zM208 362h2v1h-2zM210 363h2v1h-2zM212 364h2v1h-2zM214 365h3v1h-3zM217 364h3v1h-3zM220 363h2v1h-2zM222 362h3v1h-3zM225 361h6v1h-6zM231 360h1v1h-1zM232 359h1v1h-1zM233 358h1v1h-1zM234 357h3v1h-3zM237 356h4v1h-4zM241 355h4v1h-4zM245 356h1v1h-1zM246 356h1v2h-1zM247 358h1v3h-1zM248 361h1v2h-1zM249 363h1v3h-1zM250 366h1v3h-1zM251 369h1v2h-1zM252 371h1v2h-1zM253 373h1v2h-1zM254 375h2v1h-2zM256 376h2v1h-2zM258 377h31v1h-31zM289 378h8v1h-8zM297 377h8v1h-8zM305 378h4v1h-4zM309 379h4v1h-4zM313 380h8v1h-8zM321 379h5v1h-5zM326 378h1v2h-1zM327 376h1v2h-1zM328 374h1v2h-1zM329 372h1v2h-1zM330 370h1v2h-1zM331 367h1v3h-1zM332 364h1v3h-1zM333 361h1v3h-1zM334 359h1v2h-1zM335 357h1v2h-1zM336 356h1v1h-1zM337 354h1v2h-1zM338 353h3v1h-3zM341 354h3v1h-3zM344 355h2v1h-2zM346 356h1v2h-1zM347 358h1v2h-1zM348 360h1v2h-1zM349 362h1v2h-1zM350 364h1v3h-1zM351 367h1v2h-1zM352 369h1v2h-1zM353 371h1v2h-1zM354 373h1v1h-1zM355 374h1v2h-1zM356 376h1v2h-1zM357 378h1v2h-1zM358 380h1v1h-1zM359 381h1v1h-1zM360 382h1v2h-1zM361 384h1v1h-1zM362 385h6v1h-6zM368 386h2v1h-2zM370 387h3v1h-3zM373 388h2v1h-2zM375 387h2v1h-2zM377 386h1v1h-1zM378 385h1v1h-1zM379 384h1v1h-1zM380 382h1v2h-1zM381 381h1v1h-1zM382 380h1v1h-1zM383 379h2v1h-2zM385 378h1v1h-1zM386 377h1v1h-1zM387 376h2v1h-2zM389 375h1v1h-1zM390 374h1v1h-1zM391 373h1v1h-1zM392 371h1v2h-1zM393 370h1v1h-1zM394 368h1v2h-1zM395 366h1v2h-1zM396 364h1v2h-1zM397 362h1v2h-1zM398 359h1v3h-1zM399 357h1v2h-1zM400 355h1v2h-1zM401 353h1v2h-1zM402 350h1v3h-1zM403 347h1v3h-1zM404 344h1v3h-1zM405 341h1v3h-1zM406 338h1v3h-1zM407 334h1v4h-1zM408 331h1v3h-1zM409 327h1v4h-1zM410 324h1v3h-1zM411 320h1v4h-1zM412 316h1v4h-1zM413 312h1v4h-1zM414 308h1v4h-1zM415 303h1v5h-1zM416 297h1v6h-1zM417 292h1v5h-1zM418 288h1v4h-1zM419 284h1v4h-1zM420 280h1v4h-1zM421 276h1v4h-1zM422 272h1v4h-1zM423 268h1v4h-1zM424 264h1v4h-1zM425 260h1v4h-1zM426 258h1v2h-1zM427 256h1v2h-1zM428 255h1v1h-1zM429 253h1v2h-1zM430 252h1v1h-1zM431 251h1v1h-1zM432 250h1v1h-1zM433 249h1v1h-1zM434 248h2v1h-2zM436 247h2v1h-2zM438 246h5v1h-5zM443 247h1v2h-1zM444 249h1v1h-1zM445 250h1v2h-1zM446 252h1v1h-1zM447 253h1v1h-1zM448 254h1v2h-1zM449 256h1v1h-1zM450 257h1v1h-1zM451 258h2v1h-2zM453 259h1v1h-1zM454 260h2v1h-2zM456 261h2v1h-2zM458 262h2v1h-2zM460 261h2v1h-2zM462 260h1v1h-1zM463 259h2v1h-2zM465 258h1v1h-1zM466 257h1v1h-1zM467 256h1v1h-1zM468 254h1v2h-1zM469 253h1v1h-1zM470 252h1v1h-1zM471 250h1v2h-1zM472 249h1v1h-1zM473 247h1v2h-1zM474 246h1v1h-1zM475 245h1v1h-1zM476 243h1v2h-1zM477 242h1v1h-1zM478 241h1v1h-1zM479 240h1v1h-1zM480 238h1v2h-1zM481 237h1v1h-1zM482 236h1v1h-1zM483 235h1v1h-1zM484 233h1v2h-1zM485 232h1v1h-1zM486 231h1v1h-1zM487 230h2v1h-2zM489 229h1v1h-1zM490 228h1v1h-1zM491 227h1v1h-1zM492 226h1v1h-1zM493 225h1v1h-1zM494 224h1v1h-1zM495 223h2v1h-2zM497 222h1v1h-1zM498 221h2v1h-2zM500 220h2v1h-2zM502 219h3v1h-3zM505 220h4v1h-4zM509 219h2v1h-2zM511 220h2v1h-2zM513 221h1v1h-1zM514 222h1v1h-1zM515 223h1v1h-1zM516 224h1v2h-1zM517 226h1v1h-1zM518 227h1v1h-1zM519 228h1v1h-1zM520 229h1v2h-1zM521 231h1v1h-1zM522 232h1v1h-1zM523 233h1v2h-1zM524 235h1v1h-1zM525 236h1v2h-1zM526 238h1v2h-1zM527 240h1v2h-1zM528 242h1v2h-1zM529 244h1v2h-1zM530 246h1v2h-1zM531 248h1v2h-1zM532 250h1v2h-1zM533 252h1v2h-1zM534 254h3v1h-3zM537 255h2v1h-2zM539 256h2v1h-2zM541 257h1v1h-1zM542 258h3v1h-3zM545 259h4v1h-4zM549 258h2v1h-2zM551 257h2v1h-2zM553 256h1v1h-1zM554 255h1v1h-1zM555 253h1v2h-1zM556 252h1v1h-1zM557 250h1v2h-1zM558 249h3v1h-3zM561 248h4v1h-4zM565 249h4v1h-4zM569 248h4v1h-4zM573 247h4v1h-4zM577 248h2v1h-2zM579 249h1v1h-1zM580 250h1v1h-1zM581 251h1v1h-1zM582 252h1v1h-1zM583 253h1v2h-1zM584 255h1v1h-1zM585 256h1v2h-1zM586 258h2v1h-2zM588 259h2v1h-2zM590 260h7v1h-7zM597 259h3v1h-3zM600 260h2v1h-2zM602 261h2v1h-2zM604 260h2v1h-2zM606 259h1v1h-1zM607 258h1v1h-1zM608 257h1v1h-1zM609 256h1v1h-1zM610 255h1v1h-1zM611 253h1v2h-1zM612 251h1v2h-1zM613 249h1v2h-1zM614 248h3v1h-3zM617 249h3v1h-3zM620 248h2v1h-2zM622 247h2v1h-2zM624 246h2v1h-2zM626 245h1v1h-1zM627 244h1v1h-1zM628 243h1v1h-1zM629 242h1v1h-1zM630 241h1v1h-1zM631 239h1v2h-1zM632 237h1v2h-1zM633 235h1v2h-1zM634 234h1v1h-1zM635 232h1v2h-1zM636 231h1v1h-1zM637 229h1v2h-1zM638 228h1v1h-1zM639 226h1v2h-1zM640 225h1v1h-1zM641 223h1v2h-1zM642 221h1v2h-1zM643 217h1v4h-1zM644 214h1v3h-1zM645 210h1v4h-1zM646 208h1v2h-1zM647 206h1v2h-1zM648 204h1v2h-1zM649 202h1v2h-1zM650 200h1v2h-1zM651 197h1v3h-1zM652 194h1v3h-1zM653 191h1v3h-1zM654 189h1v2h-1zM655 188h1v1h-1zM656 186h1v2h-1zM657 185h1v1h-1zM658 184h5v1h-5zM663 185h1v1h-1zM664 186h1v1h-1zM665 187h1v1h-1zM666 188h4v1h-4zM670 188h1v2h-1zM671 190h1v3h-1zM672 193h1v2h-1zM673 195h1v3h-1zM674 198h1v2h-1zM675 200h1v1h-1zM676 201h1v2h-1zM677 203h1v1h-1zM678 204h1v1h-1zM679 205h1v1h-1zM680 206h1v2h-1zM681 208h1v1h-1zM682 209h1v1h-1zM683 210h1v1h-1zM684 211h1v2h-1zM685 213h1v1h-1zM686 214h3v1h-3zM689 215h11v1h-11zM700 216h2v1h-2zM702 217h2v1h-2zM704 216h2v1h-2zM706 215h11v1h-11zM717 214h4v1h-4zM721 213h3v1h-3zM724 212h2v1h-2zM726 211h3v1h-3zM729 210h4v1h-4zM733 211h4v1h-4zM737 210h4v1h-4zM741 211h3v1h-3zM744 212h2v1h-2zM746 213h5v1h-5zM751 212h2v1h-2zM753 211h1v1h-1zM754 210h3v1h-3zM757 209h8v1h-8zM765 208h4v1h-4zM769 209h2v1h-2zM771 210h2v1h-2zM773 211h1v1h-1zM774 212h10v1h-10zM784 213h2v1h-2zM786 214h2v1h-2zM788 215h2v1h-2zM790 216h3v1h-3zM793 217h4v1h-4zM797 218h4v1h-4zM801 217h13v1h-13zM814 217h1v2h-1zM815 219h1v4h-1zM816 223h1v3h-1zM817 226h1v4h-1zM818 230h1v2h-1zM819 232h1v1h-1zM820 233h1v1h-1zM821 234h1v1h-1zM822 235h1v1h-1zM823 236h1v1h-1zM824 237h1v2h-1zM825 239h1v1h-1zM826 240h2v1h-2zM828 241h2v1h-2zM830 242h1v1h-1zM831 243h2v1h-2zM833 244h1v1h-1zM834 245h2v1h-2zM836 246h2v1h-2zM838 247h3v1h-3zM841 248h4v1h-4zM845 247h2v1h-2zM847 246h2v1h-2zM849 245h1v1h-1zM850 244h1v1h-1zM851 243h1v1h-1zM852 241h1v2h-1zM853 240h1v1h-1zM854 239h1v1h-1zM855 238h1v1h-1zM856 237h1v1h-1zM857 236h1v1h-1zM858 235h1v1h-1zM859 234h1v1h-1zM860 233h1v1h-1zM861 232h1v1h-1zM862 231h1v1h-1zM863 229h1v2h-1zM864 227h1v2h-1zM865 225h1v2h-1zM866 224h1v1h-1zM867 223h1v1h-1zM868 221h1v2h-1zM869 220h1v1h-1zM870 219h1v1h-1zM871 217h1v2h-1zM872 216h1v1h-1zM873 214h1v2h-1zM874 213h1v1h-1zM875 212h1v1h-1zM876 211h1v1h-1zM877 210h1v1h-1zM878 209h1v1h-1zM879 207h1v2h-1zM880 205h1v2h-1zM881 203h1v2h-1zM882 201h1v2h-1zM883 199h1v2h-1zM884 196h1v3h-1zM885 194h1v2h-1zM886 191h1v3h-1zM887 187h1v4h-1zM888 184h1v3h-1zM889 180h1v4h-1zM890 176h1v4h-1zM891 171h1v5h-1zM892 166h1v5h-1zM893 161h1v5h-1zM894 158h1v3h-1zM895 158h6v1h-6zM901 157h3v1h-3zM904 156h2v1h-2zM906 155h2v1h-2zM908 154h2v1h-2zM910 153h2v1h-2zM912 152h2v1h-2zM914 151h3v1h-3zM917 152h2v1h-2zM919 153h2v1h-2zM921 154h1v1h-1zM922 155h1v1h-1zM923 156h1v1h-1zM924 157h1v1h-1zM925 158h1v1h-1zM926 159h1v1h-1zM927 160h1v2h-1zM928 162h1v2h-1zM929 164h1v2h-1zM930 166h1v1h-1zM931 167h1v2h-1zM932 169h1v1h-1zM933 170h1v2h-1zM934 172h1v1h-1zM935 173h1v1h-1zM936 174h1v2h-1zM937 176h1v1h-1zM938 177h1v2h-1zM939 179h1v4h-1zM940 183h1v3h-1zM941 186h1v4h-1zM942 190h1v3h-1zM943 193h1v4h-1zM944 197h1v3h-1zM945 200h1v4h-1zM946 204h1v4h-1zM947 208h1v5h-1zM948 213h1v4h-1zM949 217h1v5h-1zM950 222h1v4h-1zM951 226h1v3h-1zM952 229h1v2h-1zM953 231h1v3h-1zM954 234h1v3h-1zM955 237h1v3h-1zM956 240h1v2h-1zM957 242h1v3h-1zM958 245h1v2h-1zM959 247h1v2h-1zM960 249h1v2h-1zM961 251h1v2h-1zM962 253h1v1h-1zM963 254h1v2h-1zM964 256h1v1h-1zM965 257h1v2h-1zM966 259h1v1h-1zM967 260h1v2h-1zM968 262h1v1h-1zM969 263h1v2h-1zM970 265h1v1h-1zM971 266h1v1h-1zM972 267h1v1h-1zM973 268h1v1h-1zM974 269h3v1h-3zM977 268h2v1h-2zM979 267h1v1h-1zM980 266h1v1h-1zM981 265h1v1h-1zM982 264h1v1h-1zM983 263h2v1h-2zM985 262h1v1h-1zM986 261h1v1h-1zM987 260h1v1h-1zM988 258h1v2h-1zM989 257h1v1h-1zM990 256h1v1h-1zM991 254h1v2h-1zM992 253h1v1h-1zM993 251h1v2h-1zM994 250h1v1h-1zM995 249h2v1h-2zM997 248h1v1h-1zM998 247h1v1h-1zM999 246h2v1h-2zM1001 245h1v1h-1zM1002 244h7v1h-7zM1009 245h3v1h-3zM1012 244h2v1h-2zM1014 243h1v1h-1zM1015 242h1v1h-1zM1016 241h1v1h-1zM1017 240h1v1h-1zM1018 239h11v1h-11zM1029 238h4v1h-4zM1033 239h6v1h-6z"/>
<rect x="872" y="51" width="272" height="2" fill="#ff0000"/>
<rect x="856" y="149" width="358" height="2" fill="#00ff00"/>
<rect x="953" y="246" width="205" height="2" fill="#0000ff"/>
<path fill="#32cd32" d="M22 286h1v22h-1zM21 289h3v16h-3zM26 302h1v16h-1zM25 304h3v9h-3zM46 276h1v8h-1zM45 280h3v1h-3zM50 280h1v14h-1zM49 280h3v13h-3zM58 281h1v21h-1zM57 284h3v15h-3zM70 273h1v17h-1zM69 274h3v10h-3zM78 278h1v13h-1zM77 281h3v8h-3zM90 275h1v29h-1zM89 278h3v24h-3zM98 290h1v21h-1zM97 291h3v15h-3zM114 272h1v23h-1zM113 276h3v18h-3zM118 284h1v21h-1zM117 293h3v11h-3zM122 300h1v22h-1zM121 303h3v17h-3zM142 275h1v24h-1zM141 276h3v15h-3zM146 289h1v15h-1zM145 290h3v13h-3zM150 302h1v29h-1zM149 307h3v4h-3zM158 297h1v23h-1zM157 299h3v19h-3zM162 310h1v22h-1zM161 318h3v11h-3zM166 327h1v9h-1zM165 328h3v5h-3zM170 330h1v12h-1zM169 332h3v4h-3zM174 332h1v21h-1zM173 334h3v14h-3zM178 343h1v15h-1zM177 348h3v4h-3zM186 331h1v27h-1zM185 332h3v17h-3zM206 314h1v25h-1zM205 318h3v10h-3zM210 320h1v23h-1zM209 327h3v16h-3zM214 333h1v16h-1zM213 341h3v4h-3zM218 340h1v16h-1zM217 344h3v10h-3zM226 333h1v12h-1zM225 341h3v3h-3zM238 329h1v13h-1zM237 332h3v2h-3zM242 332h1v12h-1zM241 334h3v1h-3zM246 334h1v18h-1zM245 335h3v10h-3zM250 343h1v47h-1zM249 344h3v39h-3zM254 371h1v21h-1zM253 382h3v6h-3zM270 317h1v17h-1zM269 321h3v5h-3zM274 312h1v18h-1zM273 325h3v2h-3zM282 317h1v27h-1zM281 324h3v14h-3zM286 331h1v13h-1zM285 337h3v6h-3zM290 341h1v24h-1zM289 343h3v14h-3zM302 319h1v14h-1zM301 329h3v2h-3zM310 300h1v17h-1zM309 303h3v6h-3zM314 304h1v20h-1zM313 308h3v5h-3zM318 311h1v34h-1zM317 312h3v21h-3zM326 319h1v22h-1zM325 328h3v12h-3zM338 328h1v21h-1zM337 328h3v10h-3zM366 214h1v21h-1zM365 218h3v14h-3zM378 173h1v53h-1zM377 187h3v28h-3zM382 208h1v23h-1zM381 215h3v14h-3zM386 226h1v18h-1zM385 228h3v8h-3zM390 223h1v21h-1zM389 235h3v7h-3zM406 213h1v11h-1zM405 219h3v3h-3zM414 209h1v14h-1zM413 212h3v5h-3zM426 189h1v14h-1zM425 197h3v2h-3zM430 197h1v13h-1zM429 198h3v5h-3zM434 202h1v13h-1zM433 202h3v12h-3zM450 135h1v20h-1zM449 146h3v1h-3zM454 145h1v10h-1zM453 146h3v7h-3zM462 146h1v22h-1zM461 149h3v15h-3zM470 138h1v17h-1zM469 145h3v5h-3zM478 139h1v9h-1zM477 143h3v2h-3zM482 139h1v44h-1zM481 144h3v39h-3zM486 162h1v27h-1zM485 181h3v8h-3zM494 183h1v13h-1zM493 185h3v7h-3zM506 181h1v29h-1zM505 182h3v22h-3zM514 194h1v34h-1zM513 196h3v32h-3zM526 216h1v12h-1zM525 220h3v6h-3zM530 223h1v16h-1zM529 225h3v13h-3zM534 234h1v27h-1zM533 237h3v9h-3zM542 211h1v27h-1zM541 215h3v12h-3zM554 205h1v29h-1zM553 219h3v6h-3zM566 206h1v33h-1zM565 207h3v25h-3zM574 199h1v15h-1zM573 201h3v11h-3zM590 137h1v45h-1zM589 151h3v19h-3zM598 155h1v22h-1zM597 165h3v9h-3zM606 143h1v25h-1zM605 143h3v25h-3zM614 148h1v33h-1zM613 152h3v25h-3zM634 116h1v18h-1zM633 119h3v8h-3zM638 113h1v18h-1zM637 126h3v4h-3zM642 129h1v20h-1zM641 129h3v11h-3zM650 132h1v25h-1zM649 134h3v12h-3zM658 143h1v22h-1zM657 144h3v7h-3zM662 135h1v46h-1zM661 150h3v17h-3zM666 154h1v27h-1zM665 166h3v13h-3zM674 169h1v48h-1zM673 173h3v39h-3zM686 182h1v22h-1zM685 190h3v12h-3zM694 157h1v14h-1zM693 168h3v3h-3zM702 164h1v20h-1zM701 168h3v14h-3zM710 174h1v22h-1zM709 176h3v5h-3zM714 170h1v22h-1zM713 180h3v11h-3zM726 173h1v14h-1zM725 178h3v3h-3zM730 177h1v10h-1zM729 180h3v6h-3zM734 182h1v27h-1zM733 185h3v22h-3zM742 193h1v10h-1zM741 196h3v6h-3zM746 195h1v13h-1zM745 201h3v3h-3zM762 164h1v25h-1zM761 166h3v20h-3zM766 184h1v14h-1zM765 184h3v13h-3zM770 193h1v12h-1zM769 196h3v6h-3zM774 198h1v18h-1zM773 201h3v9h-3zM786 180h1v30h-1zM785 193h3v16h-3zM806 190h1v16h-1zM805 192h3v2h-3zM810 183h1v20h-1zM809 193h3v7h-3zM814 196h1v12h-1zM813 199h3v9h-3zM822 121h1v19h-1zM821 121h3v17h-3zM830 105h1v22h-1zM829 118h3v8h-3zM838 97h1v31h-1zM837 116h3v8h-3zM850 114h1v12h-1zM849 117h3v5h-3zM854 118h1v22h-1zM853 121h3v15h-3zM858 122h1v21h-1zM857 135h3v6h-3zM866 121h1v21h-1zM865 133h3v1h-3zM870 67h1v25h-1zM869 79h3v4h-3zM882 58h1v18h-1zM881 67h3v3h-3zM886 65h1v20h-1zM885 72h3v12h-3zM890 73h1v21h-1zM889 82h3v10h-3zM906 50h1v26h-1zM905 55h3v17h-3zM910 70h1v18h-1zM909 71h3v16h-3zM914 79h1v33h-1zM913 86h3v15h-3zM918 84h1v57h-1zM917 101h3v28h-3zM922 125h1v28h-1zM921 129h3v7h-3zM926 134h1v19h-1zM925 135h3v9h-3zM930 135h1v28h-1zM929 143h3v20h-3zM934 159h1v14h-1zM933 162h3v4h-3zM938 157h1v13h-1zM937 164h3v4h-3zM942 160h1v45h-1zM941 168h3v35h-3zM946 197h1v15h-1zM945 202h3v5h-3zM950 190h1v45h-1zM949 206h3v22h-3zM958 197h1v21h-1zM957 206h3v11h-3zM970 190h1v19h-1zM969 205h3v3h-3zM982 194h1v20h-1zM981 195h3v17h-3zM986 208h1v21h-1zM985 211h3v8h-3zM994 202h1v16h-1zM993 210h3v7h-3zM1002 203h1v27h-1zM1001 212h3v6h-3zM1006 213h1v30h-1zM1005 217h3v25h-3zM1018 213h1v19h-1zM1017 226h3v3h-3zM1030 211h1v17h-1zM1029 215h3v11h-3z"/>
<path fill="#ff0000" d="M6 292h1v17h-1zM5 301h3v7h-3zM10 292h1v14h-1zM9 300h3v2h-3zM14 295h1v14h-1zM13 299h3v3h-3zM18 282h1v23h-1zM17 289h3v11h-3zM30 307h1v14h-1zM29 312h3v3h-3zM34 301h1v17h-1zM33 301h3v12h-3zM38 278h1v25h-1zM37 282h3v20h-3zM42 274h1v16h-1zM41 280h3v3h-3zM54 279h1v14h-1zM53 284h3v9h-3zM62 291h1v18h-1zM61 296h3v3h-3zM66 272h1v27h-1zM65 272h3v25h-3zM74 279h1v7h-1zM73 281h3v3h-3zM82 281h1v11h-1zM81 284h3v5h-3zM86 264h1v25h-1zM85 278h3v7h-3zM94 291h1v18h-1zM93 292h3v10h-3zM102 292h1v23h-1zM101 300h3v6h-3zM106 285h1v19h-1zM105 296h3v5h-3zM110 275h1v31h-1zM109 276h3v21h-3zM126 310h1v20h-1zM125 319h3v1h-3zM130 303h1v21h-1zM129 306h3v14h-3zM134 300h1v16h-1zM133 304h3v2h-3zM138 273h1v32h-1zM137 276h3v29h-3zM154 296h1v20h-1zM153 300h3v11h-3zM182 328h1v33h-1zM181 332h3v21h-3zM190 342h1v18h-1zM189 344h3v4h-3zM194 327h1v18h-1zM193 329h3v16h-3zM198 323h1v15h-1zM197 328h3v2h-3zM202 313h1v19h-1zM201 317h3v12h-3zM222 339h1v21h-1zM221 342h3v12h-3zM230 335h1v24h-1zM229 337h3v6h-3zM234 319h1v24h-1zM233 332h3v6h-3zM258 363h1v26h-1zM257 365h3v23h-3zM262 329h1v42h-1zM261 331h3v35h-3zM266 315h1v18h-1zM265 325h3v7h-3zM278 311h1v20h-1zM277 324h3v3h-3zM294 340h1v25h-1zM293 344h3v13h-3zM298 322h1v26h-1zM297 328h3v17h-3zM306 302h1v32h-1zM305 303h3v28h-3zM322 325h1v14h-1zM321 327h3v6h-3zM330 313h1v27h-1zM329 332h3v8h-3zM334 317h1v20h-1zM333 330h3v3h-3zM342 303h1v43h-1zM341 305h3v33h-3zM346 288h1v22h-1zM345 296h3v10h-3zM350 259h1v40h-1zM349 259h3v38h-3zM354 239h1v33h-1zM353 244h3v16h-3zM358 218h1v29h-1zM357 237h3v8h-3zM362 216h1v24h-1zM361 218h3v20h-3zM370 181h1v54h-1zM369 189h3v43h-3zM374 181h1v19h-1zM373 187h3v3h-3zM394 232h1v11h-1zM393 237h3v5h-3zM398 221h1v18h-1zM397 229h3v9h-3zM402 216h1v25h-1zM401 219h3v11h-3zM410 212h1v20h-1zM409 212h3v9h-3zM418 205h1v18h-1zM417 208h3v9h-3zM422 190h1v22h-1zM421 198h3v11h-3zM438 174h1v42h-1zM437 197h3v17h-3zM442 161h1v38h-1zM441 189h3v9h-3zM446 146h1v46h-1zM445 146h3v43h-3zM458 147h1v13h-1zM457 149h3v4h-3zM466 140h1v24h-1zM465 144h3v20h-3zM474 133h1v24h-1zM473 143h3v8h-3zM490 180h1v14h-1zM489 185h3v3h-3zM498 183h1v15h-1zM497 189h3v2h-3zM502 180h1v11h-1zM501 183h3v7h-3zM510 193h1v21h-1zM509 196h3v18h-3zM518 221h1v18h-1zM517 223h3v4h-3zM522 207h1v23h-1zM521 220h3v4h-3zM538 210h1v38h-1zM537 215h3v31h-3zM546 215h1v16h-1zM545 226h3v2h-3zM550 216h1v16h-1zM549 220h3v7h-3zM558 192h1v34h-1zM557 211h3v14h-3zM562 201h1v14h-1zM561 207h3v4h-3zM570 199h1v37h-1zM569 201h3v31h-3zM578 184h1v35h-1zM577 184h3v27h-3zM582 152h1v54h-1zM581 163h3v22h-3zM586 151h1v17h-1zM585 152h3v12h-3zM594 156h1v25h-1zM593 165h3v5h-3zM602 138h1v39h-1zM601 143h3v31h-3zM610 152h1v20h-1zM609 152h3v16h-3zM618 117h1v65h-1zM617 124h3v53h-3zM622 118h1v13h-1zM621 124h3v2h-3zM626 104h1v25h-1zM625 107h3v18h-3zM630 112h1v13h-1zM629 119h3v5h-3zM646 130h1v18h-1zM645 134h3v7h-3zM654 135h1v16h-1zM653 144h3v1h-3zM670 163h1v35h-1zM669 172h3v7h-3zM678 196h1v29h-1zM677 200h3v12h-3zM682 189h1v14h-1zM681 190h3v11h-3zM690 162h1v41h-1zM689 168h3v34h-3zM698 156h1v20h-1zM697 169h3v2h-3zM706 176h1v11h-1zM705 176h3v6h-3zM718 178h1v18h-1zM717 184h3v7h-3zM722 175h1v13h-1zM721 178h3v7h-3zM738 194h1v17h-1zM737 196h3v11h-3zM750 191h1v14h-1zM749 194h3v3h-3zM754 177h1v18h-1zM753 178h3v17h-3zM758 157h1v23h-1zM757 166h3v12h-3zM778 191h1v19h-1zM777 195h3v15h-3zM782 164h1v39h-1zM781 193h3v3h-3zM790 199h1v13h-1zM789 208h3v1h-3zM794 203h1v26h-1zM793 206h3v3h-3zM798 194h1v14h-1zM797 194h3v13h-3zM802 188h1v12h-1zM801 192h3v4h-3zM818 109h1v99h-1zM817 121h3v87h-3zM826 115h1v24h-1zM825 118h3v21h-3zM834 96h1v35h-1zM833 116h3v10h-3zM842 109h1v28h-1zM841 117h3v7h-3zM846 111h1v14h-1zM845 117h3v1h-3zM862 132h1v17h-1zM861 133h3v8h-3zM874 68h1v17h-1zM873 73h3v10h-3zM878 50h1v26h-1zM877 67h3v7h-3zM894 75h1v17h-1zM893 80h3v12h-3zM898 62h1v23h-1zM897 63h3v19h-3zM902 49h1v17h-1zM901 55h3v9h-3zM954 200h1v32h-1zM953 206h3v22h-3zM962 198h1v26h-1zM961 207h3v10h-3zM966 193h1v17h-1zM965 206h3v2h-3zM974 201h1v20h-1zM973 207h3v2h-3zM978 189h1v35h-1zM977 195h3v13h-3zM990 206h1v40h-1zM989 210h3v30h-3zM998 204h1v17h-1zM997 212h3v5h-3zM1010 233h1v13h-1zM1009 240h3v2h-3zM1014 220h1v23h-1zM1013 226h3v15h-3zM1022 216h1v19h-1zM1021 219h3v9h-3zM1026 204h1v17h-1zM1025 215h3v5h-3zM1034 220h1v16h-1zM1033 222h3v4h-3zM1038 199h1v31h-1zM1037 204h3v20h-3z"/>
<path fill="#3ad23a" d="M22 290h1v14h-1zM26 305h1v7h-1zM50 281h1v11h-1zM58 285h1v13h-1zM70 275h1v8h-1zM78 282h1v6h-1zM90 279h1v22h-1zM98 292h1v13h-1zM114 277h1v16h-1zM118 294h1v9h-1zM122 304h1v15h-1zM142 277h1v13h-1zM146 291h1v11h-1zM150 308h1v2h-1zM158 300h1v17h-1zM162 319h1v9h-1zM166 329h1v3h-1zM170 333h1v2h-1zM174 335h1v12h-1zM178 349h1v2h-1zM186 333h1v15h-1zM206 319h1v8h-1zM210 328h1v14h-1zM214 342h1v2h-1zM218 345h1v8h-1zM226 342h1v1h-1zM246 336h1v8h-1zM250 345h1v37h-1zM254 383h1v4h-1zM270 322h1v3h-1zM282 325h1v12h-1zM286 338h1v4h-1zM290 344h1v12h-1zM310 304h1v4h-1zM314 309h1v3h-1zM318 313h1v19h-1zM326 329h1v10h-1zM338 329h1v8h-1zM366 219h1v12h-1zM378 188h1v26h-1zM382 216h1v12h-1zM386 229h1v6h-1zM390 236h1v5h-1zM406 220h1v1h-1zM414 213h1v3h-1zM430 199h1v3h-1zM434 203h1v10h-1zM454 147h1v5h-1zM462 150h1v13h-1zM470 146h1v3h-1zM482 145h1v37h-1zM486 182h1v6h-1zM494 186h1v5h-1zM506 183h1v20h-1zM514 197h1v30h-1zM526 221h1v4h-1zM530 226h1v11h-1zM534 238h1v7h-1zM542 216h1v10h-1zM554 220h1v4h-1zM566 208h1v23h-1zM574 202h1v9h-1zM590 152h1v17h-1zM598 166h1v7h-1zM606 144h1v23h-1zM614 153h1v23h-1zM634 120h1v6h-1zM638 127h1v2h-1zM642 130h1v9h-1zM650 135h1v10h-1zM658 145h1v5h-1zM662 151h1v15h-1zM666 167h1v11h-1zM674 174h1v37h-1zM686 191h1v10h-1zM694 169h1v1h-1zM702 169h1v12h-1zM710 177h1v3h-1zM714 181h1v9h-1zM726 179h1v1h-1zM730 181h1v4h-1zM734 186h1v20h-1zM742 197h1v4h-1zM746 202h1v1h-1zM762 167h1v18h-1zM766 185h1v11h-1zM770 197h1v4h-1zM774 202h1v7h-1zM786 194h1v14h-1zM810 194h1v5h-1zM814 200h1v7h-1zM822 122h1v15h-1zM830 119h1v6h-1zM838 117h1v6h-1zM850 118h1v3h-1zM854 122h1v13h-1zM858 136h1v4h-1zM870 80h1v2h-1zM882 68h1v1h-1zM886 73h1v10h-1zM890 83h1v8h-1zM906 56h1v15h-1zM910 72h1v14h-1zM914 87h1v13h-1zM918 102h1v26h-1zM922 130h1v5h-1zM926 136h1v7h-1zM930 144h1v18h-1zM934 163h1v2h-1zM938 165h1v2h-1zM942 169h1v33h-1zM946 203h1v3h-1zM950 207h1v20h-1zM958 207h1v9h-1zM970 206h1v1h-1zM982 196h1v15h-1zM986 212h1v6h-1zM994 211h1v5h-1zM1002 213h1v4h-1zM1006 218h1v23h-1zM1018 227h1v1h-1zM1030 216h1v9h-1z"/>
<path fill="#ff4500" d="M6 302h1v5h-1zM14 300h1v1h-1zM18 290h1v9h-1zM30 313h1v1h-1zM34 302h1v10h-1zM38 283h1v18h-1zM42 281h1v1h-1zM54 285h1v7h-1zM62 297h1v1h-1zM66 273h1v23h-1zM74 282h1v1h-1zM82 285h1v3h-1zM86 279h1v5h-1zM94 293h1v8h-1zM102 301h1v4h-1zM106 297h1v3h-1zM110 277h1v19h-1zM130 307h1v12h-1zM138 277h1v27h-1zM154 301h1v9h-1zM182 333h1v19h-1zM190 345h1v2h-1zM194 330h1v14h-1zM202 318h1v10h-1zM222 343h1v10h-1zM230 338h1v4h-1zM234 333h1v4h-1zM258 366h1v21h-1zM262 332h1v33h-1zM266 326h1v5h-1zM278 325h1v1h-1zM294 345h1v11h-1zM298 329h1v15h-1zM306 304h1v26h-1zM322 328h1v4h-1zM330 333h1v6h-1zM334 331h1v1h-1zM342 306h1v31h-1zM346 297h1v8h-1zM350 260h1v36h-1zM354 245h1v14h-1zM358 238h1v6h-1zM362 219h1v18h-1zM370 190h1v41h-1zM374 188h1v1h-1zM394 238h1v3h-1zM398 230h1v7h-1zM402 220h1v9h-1zM410 213h1v7h-1zM418 209h1v7h-1zM422 199h1v9h-1zM438 198h1v15h-1zM442 190h1v7h-1zM446 147h1v41h-1zM458 150h1v2h-1zM466 145h1v18h-1zM474 144h1v6h-1zM490 186h1v1h-1zM502 184h1v5h-1zM510 197h1v16h-1zM518 224h1v2h-1zM522 221h1v2h-1zM538 216h1v29h-1zM550 221h1v5h-1zM558 212h1v12h-1zM562 208h1v2h-1zM570 202h1v29h-1zM578 185h1v25h-1zM582 164h1v20h-1zM586 153h1v10h-1zM594 166h1v3h-1zM602 144h1v29h-1zM610 153h1v14h-1zM618 125h1v51h-1zM626 108h1v16h-1zM630 120h1v3h-1zM646 135h1v5h-1zM670 173h1v5h-1zM678 201h1v10h-1zM682 191h1v9h-1zM690 169h1v32h-1zM706 177h1v4h-1zM718 185h1v5h-1zM722 179h1v5h-1zM738 197h1v9h-1zM750 195h1v1h-1zM754 179h1v15h-1zM758 167h1v10h-1zM778 196h1v13h-1zM782 194h1v1h-1zM794 207h1v1h-1zM798 195h1v11h-1zM802 193h1v2h-1zM818 122h1v85h-1zM826 119h1v19h-1zM834 117h1v8h-1zM842 118h1v5h-1zM862 134h1v6h-1zM874 74h1v8h-1zM878 68h1v5h-1zM894 81h1v10h-1zM898 64h1v17h-1zM902 56h1v7h-1zM954 207h1v20h-1zM962 208h1v8h-1zM978 196h1v11h-1zM990 211h1v28h-1zM998 213h1v3h-1zM1014 227h1v13h-1zM1022 220h1v7h-1zM1026 216h1v3h-1zM1034 223h1v2h-1zM1038 205h1v18h-1z"/>
<path class="lvl" d="M7 448.5H1309M7 507.5H1309"/>
<path fill="#1e90ff" d="M6 467h7v1h-7zM13 466h2v1h-2zM15 465h1v1h-1zM16 463h1v2h-1zM17 462h1v1h-1zM18 461h1v2h-1zM19 463h1v2h-1zM20 465h1v2h-1zM21 467h1v2h-1zM22 469h1v2h-1zM23 471h1v2h-1zM24 473h1v1h-1zM25 474h1v2h-1zM26 476h5v1h-5zM31 474h1v2h-1zM32 473h1v1h-1zM33 471h1v2h-1zM34 469h1v2h-1zM35 467h1v2h-1zM36 465h1v2h-1zM37 463h1v2h-1zM38 461h1v2h-1zM39 461h2v1h-2zM41 460h5v1h-5zM46 460h1v2h-1zM47 462h1v2h-1zM48 464h1v2h-1zM49 466h1v2h-1zM50 468h1v2h-1zM51 468h1v1h-1zM52 466h1v2h-1zM53 465h1v1h-1zM54 464h1v2h-1zM55 466h1v2h-1zM56 468h1v3h-1zM57 471h1v2h-1zM58 473h1v2h-1zM59 474h2v1h-2zM61 473h1v1h-1zM62 472h1v2h-1zM63 469h1v3h-1zM64 466h1v3h-1zM65 463h1v3h-1zM66 461h1v2h-1zM67 462h1v2h-1zM68 464h1v1h-1zM69 465h1v2h-1zM70 467h5v1h-5zM75 468h1v1h-1zM76 469h1v1h-1zM77 470h1v1h-1zM78 471h2v1h-2zM80 470h2v1h-2zM82 469h1v1h-1zM83 468h2v1h-2zM85 467h1v1h-1zM86 466h1v2h-1zM87 468h1v4h-1zM88 472h1v4h-1zM89 476h1v4h-1zM90 480h1v2h-1zM91 479h1v2h-1zM92 478h1v1h-1zM93 476h1v2h-1zM94 475h1v2h-1zM95 477h1v2h-1zM96 479h1v2h-1zM97 481h1v2h-1zM98 483h1v1h-1zM99 482h2v1h-2zM101 481h1v1h-1zM102 480h1v1h-1zM103 479h2v1h-2zM105 478h1v1h-1zM106 476h1v2h-1zM107 474h1v2h-1zM108 471h1v3h-1zM109 469h1v2h-1zM110 467h1v2h-1zM111 469h1v2h-1zM112 471h1v2h-1zM113 473h1v2h-1zM114 475h1v2h-1zM115 477h1v2h-1zM116 479h1v2h-1zM117 481h1v2h-1zM118 483h1v1h-1zM119 484h1v2h-1zM120 486h1v1h-1zM121 487h1v2h-1zM122 489h4v1h-4zM126 488h1v2h-1zM127 486h1v2h-1zM128 484h1v2h-1zM129 482h1v2h-1zM130 481h2v1h-2zM132 480h2v1h-2zM134 478h1v2h-1zM135 475h1v3h-1zM136 471h1v4h-1zM137 468h1v3h-1zM138 466h1v2h-1zM139 468h1v2h-1zM140 470h1v2h-1zM141 472h1v2h-1zM142 474h1v1h-1zM143 475h1v2h-1zM144 477h1v1h-1zM145 478h1v2h-1zM146 480h1v1h-1zM147 481h1v1h-1zM148 482h1v1h-1zM149 483h1v1h-1zM150 484h1v1h-1zM151 482h1v2h-1zM152 481h1v1h-1zM153 479h1v2h-1zM154 478h1v2h-1zM155 480h1v2h-1zM156 482h1v2h-1zM157 484h1v2h-1zM158 486h1v1h-1zM159 487h1v1h-1zM160 488h1v2h-1zM161 490h1v1h-1zM162 491h3v1h-3zM165 492h4v1h-4zM169 493h2v1h-2zM171 494h1v1h-1zM172 495h1v2h-1zM173 497h1v1h-1zM174 498h2v1h-2zM176 499h2v1h-2zM178 499h1v2h-1zM179 496h1v3h-1zM180 492h1v4h-1zM181 489h1v3h-1zM182 487h1v2h-1zM183 488h1v2h-1zM184 490h1v2h-1zM185 492h1v2h-1zM186 494h1v1h-1zM187 493h2v1h-2zM189 492h1v1h-1zM190 490h1v2h-1zM191 488h1v2h-1zM192 486h1v2h-1zM193 484h1v2h-1zM194 483h3v1h-3zM197 482h2v1h-2zM199 480h1v2h-1zM200 479h1v1h-1zM201 477h1v2h-1zM202 476h1v1h-1zM203 477h1v2h-1zM204 479h1v1h-1zM205 480h1v2h-1zM206 482h1v1h-1zM207 483h1v2h-1zM208 485h1v1h-1zM209 486h1v2h-1zM210 488h2v1h-2zM212 489h2v1h-2zM214 490h1v1h-1zM215 491h1v1h-1zM216 492h1v1h-1zM217 493h1v1h-1zM218 493h1v2h-1zM219 491h1v2h-1zM220 489h1v2h-1zM221 487h1v2h-1zM222 486h3v1h-3zM225 487h2v1h-2zM227 486h1v1h-1zM228 485h1v1h-1zM229 484h1v1h-1zM230 483h1v1h-1zM231 482h2v1h-2zM233 481h1v1h-1zM234 480h3v1h-3zM237 481h6v1h-6zM243 482h1v2h-1zM244 484h1v1h-1zM245 485h1v2h-1zM246 487h1v3h-1zM247 490h1v4h-1zM248 494h1v5h-1zM249 499h1v4h-1zM250 503h1v3h-1zM251 505h2v1h-2zM253 506h1v1h-1zM254 504h1v3h-1zM255 500h1v4h-1zM256 496h1v4h-1zM257 492h1v4h-1zM258 488h1v4h-1zM259 484h1v4h-1zM260 480h1v4h-1zM261 476h1v4h-1zM262 474h1v2h-1zM263 473h2v1h-2zM265 472h1v1h-1zM266 471h7v1h-7zM273 472h4v1h-4zM277 471h2v1h-2zM279 472h1v2h-1zM280 474h1v2h-1zM281 476h1v2h-1zM282 478h1v1h-1zM283 479h2v1h-2zM285 480h1v1h-1zM286 481h1v1h-1zM287 482h1v2h-1zM288 484h1v2h-1zM289 486h1v2h-1zM290 487h1v2h-1zM291 485h1v2h-1zM292 483h1v2h-1zM293 481h1v2h-1zM294 480h1v1h-1zM295 478h1v2h-1zM296 476h1v2h-1zM297 474h1v2h-1zM298 473h3v1h-3zM301 474h1v1h-1zM302 473h1v2h-1zM303 470h1v3h-1zM304 466h1v4h-1zM305 463h1v3h-1zM306 461h1v2h-1zM307 462h1v1h-1zM308 463h1v1h-1zM309 464h1v1h-1zM310 465h2v1h-2zM312 466h2v1h-2zM314 467h1v2h-1zM315 469h1v3h-1zM316 472h1v2h-1zM317 474h1v3h-1zM318 477h1v2h-1zM319 478h1v1h-1zM320 477h2v1h-2zM322 476h1v1h-1zM323 477h1v2h-1zM324 479h1v1h-1zM325 480h1v2h-1zM326 482h1v1h-1zM327 481h1v1h-1zM328 480h1v1h-1zM329 479h1v1h-1zM330 478h2v1h-2zM332 477h2v1h-2zM334 476h1v1h-1zM335 477h1v1h-1zM336 478h1v2h-1zM337 480h1v1h-1zM338 479h1v3h-1zM339 475h1v4h-1zM340 471h1v4h-1zM341 467h1v4h-1zM342 465h1v2h-1zM343 464h1v1h-1zM344 462h1v2h-1zM345 461h1v1h-1zM346 459h1v2h-1zM347 457h1v2h-1zM348 454h1v3h-1zM349 452h1v2h-1zM350 450h1v2h-1zM351 449h1v1h-1zM352 447h1v2h-1zM353 446h1v1h-1zM354 445h2v1h-2zM356 444h2v1h-2zM358 443h1v1h-1zM359 442h2v1h-2zM361 441h1v1h-1zM362 440h1v2h-1zM363 442h1v2h-1zM364 444h1v2h-1zM365 446h1v2h-1zM366 447h1v2h-1zM367 445h1v2h-1zM368 443h1v2h-1zM369 441h1v2h-1zM370 439h1v2h-1zM371 439h3v1h-3zM374 439h1v2h-1zM375 441h1v3h-1zM376 444h1v4h-1zM377 448h1v3h-1zM378 451h1v3h-1zM379 454h1v2h-1zM380 456h1v2h-1zM381 458h1v2h-1zM382 460h2v1h-2zM384 461h2v1h-2zM386 462h1v1h-1zM387 463h2v1h-2zM389 464h1v1h-1zM390 465h3v1h-3zM393 464h2v1h-2zM395 463h2v1h-2zM397 462h1v1h-1zM398 461h1v1h-1zM399 460h2v1h-2zM401 459h1v1h-1zM402 458h3v1h-3zM405 459h2v1h-2zM407 458h2v1h-2zM409 457h1v1h-1zM410 456h1v1h-1zM411 457h2v1h-2zM413 458h1v1h-1zM414 459h1v1h-1zM415 458h2v1h-2zM417 457h1v1h-1zM418 456h1v1h-1zM419 455h1v1h-1zM420 454h1v1h-1zM421 453h1v1h-1zM422 452h5v1h-5zM427 453h1v1h-1zM428 454h1v1h-1zM429 455h1v1h-1zM430 456h1v1h-1zM431 457h1v2h-1zM432 459h1v2h-1zM433 461h1v2h-1zM434 463h1v1h-1zM435 461h1v2h-1zM436 460h1v1h-1zM437 458h1v2h-1zM438 457h1v1h-1zM439 456h2v1h-2zM441 455h1v1h-1zM442 453h1v2h-1zM443 450h1v3h-1zM444 447h1v3h-1zM445 444h1v3h-1zM446 442h1v2h-1zM447 442h4v1h-4zM451 443h1v1h-1zM452 444h1v1h-1zM453 445h1v1h-1zM454 446h3v1h-3zM457 445h1v1h-1zM458 445h1v2h-1zM459 447h1v2h-1zM460 449h1v3h-1zM461 452h1v2h-1zM462 454h1v2h-1zM463 453h1v2h-1zM464 452h1v1h-1zM465 450h1v2h-1zM466 449h1v1h-1zM467 450h2v1h-2zM469 451h1v1h-1zM470 452h2v1h-2zM472 451h2v1h-2zM474 450h3v1h-3zM477 451h1v1h-1zM478 451h1v3h-1zM479 454h1v6h-1zM480 460h1v5h-1zM481 465h1v6h-1zM482 471h1v3h-1zM483 474h2v1h-2zM485 475h1v1h-1zM486 476h3v1h-3zM489 475h2v1h-2zM491 476h2v1h-2zM493 477h1v1h-1zM494 478h3v1h-3zM497 477h2v1h-2zM499 476h2v1h-2zM501 475h1v1h-1zM502 474h1v2h-1zM503 476h1v2h-1zM504 478h1v3h-1zM505 481h1v2h-1zM506 483h1v2h-1zM507 483h1v1h-1zM508 482h1v1h-1zM509 481h1v1h-1zM510 480h1v2h-1zM511 482h1v4h-1zM512 486h1v3h-1zM513 489h1v4h-1zM514 493h1v2h-1zM515 494h1v1h-1zM516 493h2v1h-2zM518 492h2v1h-2zM520 491h2v1h-2zM522 490h2v1h-2zM524 491h2v1h-2zM526 492h1v1h-1zM527 493h1v1h-1zM528 494h1v2h-1zM529 496h1v1h-1zM530 497h1v1h-1zM531 498h2v1h-2zM533 499h1v1h-1zM534 498h1v3h-1zM535 494h1v4h-1zM536 489h1v5h-1zM537 485h1v4h-1zM538 482h1v3h-1zM539 483h1v1h-1zM540 484h1v2h-1zM541 486h1v1h-1zM542 487h3v1h-3zM545 486h2v1h-2zM547 485h2v1h-2zM549 484h1v1h-1zM550 483h2v1h-2zM552 484h2v1h-2zM554 485h1v1h-1zM555 483h1v2h-1zM556 481h1v2h-1zM557 479h1v2h-1zM558 478h2v1h-2zM560 477h2v1h-2zM562 476h1v2h-1zM563 478h1v3h-1zM564 481h1v2h-1zM565 483h1v3h-1zM566 486h1v2h-1zM567 482h1v4h-1zM568 479h1v3h-1zM569 475h1v4h-1zM570 473h1v2h-1zM571 474h1v1h-1zM572 475h1v1h-1zM573 476h1v1h-1zM574 476h1v2h-1zM575 474h1v2h-1zM576 472h1v2h-1zM577 470h1v2h-1zM578 467h1v3h-1zM579 465h1v2h-1zM580 463h1v2h-1zM581 461h1v2h-1zM582 460h1v1h-1zM583 459h2v1h-2zM585 458h1v1h-1zM586 457h1v2h-1zM587 459h1v2h-1zM588 461h1v2h-1zM589 463h1v2h-1zM590 465h2v1h-2zM592 464h2v1h-2zM594 463h1v1h-1zM595 464h1v1h-1zM596 465h1v2h-1zM597 467h1v1h-1zM598 467h1v2h-1zM599 465h1v2h-1zM600 462h1v3h-1zM601 460h1v2h-1zM602 458h1v2h-1zM603 460h1v3h-1zM604 463h1v2h-1zM605 465h1v3h-1zM606 468h1v2h-1zM607 468h1v1h-1zM608 466h1v2h-1zM609 465h1v1h-1zM610 464h1v2h-1zM611 466h1v2h-1zM612 468h1v3h-1zM613 471h1v2h-1zM614 473h1v2h-1zM615 469h1v4h-1zM616 465h1v4h-1zM617 461h1v4h-1zM618 459h1v2h-1zM619 459h4v1h-4zM623 458h1v1h-1zM624 457h1v1h-1zM625 456h1v1h-1zM626 455h1v1h-1zM627 456h1v1h-1zM628 457h1v2h-1zM629 459h1v1h-1zM630 460h1v1h-1zM631 461h2v1h-2zM633 462h1v1h-1zM634 463h3v1h-3zM637 464h2v1h-2zM639 465h1v1h-1zM640 466h1v2h-1zM641 468h1v1h-1zM642 469h2v1h-2zM644 468h2v1h-2zM646 467h1v1h-1zM647 468h1v1h-1zM648 469h1v2h-1zM649 471h1v1h-1zM650 472h3v1h-3zM653 471h3v1h-3zM656 472h2v1h-2zM658 473h1v1h-1zM659 474h1v2h-1zM660 476h1v2h-1zM661 478h1v2h-1zM662 480h1v1h-1zM663 481h1v2h-1zM664 483h1v1h-1zM665 484h1v2h-1zM666 486h1v1h-1zM667 485h2v1h-2zM669 484h1v1h-1zM670 483h1v2h-1zM671 485h1v4h-1zM672 489h1v3h-1zM673 492h1v4h-1zM674 496h1v2h-1zM675 496h1v1h-1zM676 494h1v2h-1zM677 493h1v1h-1zM678 492h1v1h-1zM679 491h1v1h-1zM680 489h1v2h-1zM681 488h1v1h-1zM682 487h1v1h-1zM683 488h1v1h-1zM684 489h1v1h-1zM685 490h1v1h-1zM686 490h1v2h-1zM687 486h1v4h-1zM688 483h1v3h-1zM689 479h1v4h-1zM690 477h1v2h-1zM691 477h2v1h-2zM693 478h4v1h-4zM697 477h2v1h-2zM699 478h1v1h-1zM700 479h1v2h-1zM701 481h1v1h-1zM702 482h2v1h-2zM704 481h2v1h-2zM706 480h3v1h-3zM709 481h2v1h-2zM711 482h1v1h-1zM712 483h1v2h-1zM713 485h1v1h-1zM714 486h1v1h-1zM715 485h1v1h-1zM716 484h1v1h-1zM717 483h1v1h-1zM718 482h2v1h-2zM720 481h2v1h-2zM722 480h5v1h-5zM727 481h2v1h-2zM729 482h1v1h-1zM730 483h1v2h-1zM731 485h1v2h-1zM732 487h1v3h-1zM733 490h1v2h-1zM734 492h1v2h-1zM735 491h1v2h-1zM736 490h1v1h-1zM737 488h1v2h-1zM738 487h2v1h-2zM740 488h2v1h-2zM742 489h3v1h-3zM745 490h2v1h-2zM747 489h1v1h-1zM748 487h1v2h-1zM749 486h1v1h-1zM750 484h1v2h-1zM751 482h1v2h-1zM752 480h1v2h-1zM753 478h1v2h-1zM754 476h1v2h-1zM755 474h1v2h-1zM756 472h1v2h-1zM757 470h1v2h-1zM758 469h1v2h-1zM759 471h1v2h-1zM760 473h1v2h-1zM761 475h1v2h-1zM762 477h1v2h-1zM763 479h1v2h-1zM764 481h1v1h-1zM765 482h1v2h-1zM766 484h1v1h-1zM767 485h2v1h-2zM769 486h1v1h-1zM770 487h1v1h-1zM771 488h2v1h-2zM773 489h1v1h-1zM774 489h1v2h-1zM775 487h1v2h-1zM776 485h1v2h-1zM777 483h1v2h-1zM778 482h3v1h-3zM781 481h2v1h-2zM783 482h1v2h-1zM784 484h1v2h-1zM785 486h1v2h-1zM786 488h7v1h-7zM793 487h2v1h-2zM795 485h1v2h-1zM796 483h1v2h-1zM797 481h1v2h-1zM798 480h2v1h-2zM800 479h2v1h-2zM802 478h3v1h-3zM805 479h2v1h-2zM807 480h2v1h-2zM809 481h1v1h-1zM810 482h1v1h-1zM811 483h1v1h-1zM812 484h1v2h-1zM813 486h1v1h-1zM814 483h1v5h-1zM815 474h1v9h-1zM816 464h1v10h-1zM817 455h1v9h-1zM818 450h1v5h-1zM819 452h1v2h-1zM820 454h1v2h-1zM821 456h1v2h-1zM822 458h1v1h-1zM823 457h1v1h-1zM824 455h1v2h-1zM825 454h1v1h-1zM826 453h1v1h-1zM827 454h1v1h-1zM828 455h1v1h-1zM829 456h1v1h-1zM830 457h1v1h-1zM831 456h2v1h-2zM833 455h1v1h-1zM834 454h1v1h-1zM835 455h1v1h-1zM836 456h1v1h-1zM837 457h1v1h-1zM838 458h2v1h-2zM840 457h2v1h-2zM842 456h5v1h-5zM847 457h2v1h-2zM849 458h1v1h-1zM850 459h1v2h-1zM851 461h1v2h-1zM852 463h1v2h-1zM853 465h1v2h-1zM854 467h2v1h-2zM856 468h2v1h-2zM858 469h1v1h-1zM859 468h2v1h-2zM861 467h1v1h-1zM862 466h4v1h-4zM866 464h1v3h-1zM867 460h1v4h-1zM868 456h1v4h-1zM869 452h1v4h-1zM870 449h1v3h-1zM871 448h2v1h-2zM873 447h1v1h-1zM874 446h3v1h-3zM877 445h4v1h-4zM881 446h1v1h-1zM882 446h1v2h-1zM883 448h1v2h-1zM884 450h1v2h-1zM885 452h1v2h-1zM886 454h1v1h-1zM887 455h1v2h-1zM888 457h1v1h-1zM889 458h1v2h-1zM890 460h1v1h-1zM891 459h1v1h-1zM892 458h1v1h-1zM893 457h1v1h-1zM894 456h1v1h-1zM895 454h1v2h-1zM896 453h1v1h-1zM897 451h1v2h-1zM898 450h2v1h-2zM900 449h2v1h-2zM902 448h1v2h-1zM903 450h1v3h-1zM904 453h1v2h-1zM905 455h1v3h-1zM906 458h1v3h-1zM907 461h1v2h-1zM908 463h1v2h-1zM909 465h1v2h-1zM910 467h1v1h-1zM911 468h1v2h-1zM912 470h1v2h-1zM913 472h1v2h-1zM914 474h1v2h-1zM915 476h1v3h-1zM916 479h1v2h-1zM917 481h1v3h-1zM918 484h1v2h-1zM919 486h2v1h-2zM921 487h1v1h-1zM922 488h1v1h-1zM923 489h2v1h-2zM925 490h1v1h-1zM926 491h1v1h-1zM927 492h1v2h-1zM928 494h1v1h-1zM929 495h1v2h-1zM930 497h3v1h-3zM933 498h4v1h-4zM937 499h1v1h-1zM938 499h1v2h-1zM939 501h1v2h-1zM940 503h1v3h-1zM941 506h1v2h-1zM942 508h1v2h-1zM943 509h2v1h-2zM945 510h2v1h-2zM947 511h1v1h-1zM948 512h1v1h-1zM949 513h1v1h-1zM950 513h1v2h-1zM951 510h1v3h-1zM952 507h1v3h-1zM953 504h1v3h-1zM954 502h1v2h-1zM955 503h2v1h-2zM957 504h1v1h-1zM958 505h1v1h-1zM959 504h1v1h-1zM960 502h1v2h-1zM961 501h1v1h-1zM962 500h3v1h-3zM965 499h4v1h-4zM969 500h4v1h-4zM973 499h2v1h-2zM975 497h1v2h-1zM976 495h1v2h-1zM977 493h1v2h-1zM978 492h1v1h-1zM979 493h1v2h-1zM980 495h1v1h-1zM981 496h1v2h-1zM982 498h1v1h-1zM983 499h2v1h-2zM985 500h1v1h-1zM986 501h1v1h-1zM987 499h1v2h-1zM988 498h1v1h-1zM989 496h1v2h-1zM990 495h2v1h-2zM992 496h2v1h-2zM994 497h2v1h-2zM996 496h2v1h-2zM998 495h3v1h-3zM1001 496h1v1h-1zM1002 496h1v2h-1zM1003 498h1v2h-1zM1004 500h1v3h-1zM1005 503h1v2h-1zM1006 505h1v2h-1zM1007 506h2v1h-2zM1009 505h1v1h-1zM1010 504h1v2h-1zM1011 502h1v2h-1zM1012 499h1v3h-1zM1013 497h1v2h-1zM1014 495h1v2h-1zM1015 495h2v1h-2zM1017 496h2v1h-2zM1019 494h1v2h-1zM1020 493h1v1h-1zM1021 491h1v2h-1zM1022 490h1v1h-1zM1023 489h2v1h-2zM1025 488h1v1h-1zM1026 487h1v1h-1zM1027 488h1v1h-1zM1028 489h1v2h-1zM1029 491h1v1h-1zM1030 492h1v1h-1zM1031 491h2v1h-2zM1033 490h1v1h-1zM1034 488h1v2h-1zM1035 486h1v2h-1zM1036 483h1v3h-1zM1037 481h1v2h-1zM1038 479h1v2h-1z"/>
<path fill="#000" d="M5 30h1305v1h-1305zM5 30h1v372h-1zM5 403h1v149h-1zM1309 30h1v372h-1zM1309 403h1v149h-1zM5 401h1305v1h-1305zM5 403h1305v1h-1305zM5 551h1305v1h-1305zM1310 35h2v1h-2zM1310 68h2v1h-2zM1310 101h2v1h-2zM1310 134h2v1h-2zM1310 167h2v1h-2zM1310 200h2v1h-2zM1310 233h2v1h-2zM1310 266h2v1h-2zM1310 299h2v1h-2zM1310 332h2v1h-2zM1310 365h2v1h-2zM1310 398h2v1h-2zM1310 405h1v1h-1zM1310 448h1v1h-1zM1310 507h1v1h-1zM1310 549h1v1h-1zM6 552h1v3h-1zM70 552h1v3h-1zM134 552h1v3h-1zM198 552h1v3h-1zM262 552h1v3h-1zM326 552h1v3h-1zM390 552h1v3h-1zM454 552h1v3h-1zM518 552h1v3h-1zM582 552h1v3h-1zM646 552h1v3h-1zM710 552h1v3h-1zM774 552h1v3h-1zM838 552h1v3h-1zM902 552h1v3h-1zM966 552h1v3h-1zM1030 552h1v3h-1z"/>
<text class="ax" x="1315" y="39" textLength="33.7">0.74080</text>
<text class="ax" x="1315" y="72" textLength="33.7">0.73720</text>
<text class="ax" x="1315" y="105" textLength="33.7">0.73360</text>
<text class="ax" x="1315" y="138" textLength="33.7">0.73000</text>
<text class="ax" x="1315" y="171" textLength="33.7">0.72640</text>
<text class="ax" x="1315" y="204" textLength="33.7">0.72280</text>
<text class="ax" x="1315" y="237" textLength="33.7">0.71920</text>
<text class="ax" x="1315" y="270" textLength="33.7">0.71560</text>
<text class="ax" x="1315" y="303" textLength="33.7">0.71210</text>
<text class="ax" x="1315" y="336" textLength="33.7">0.70850</text>
<text class="ax" x="1315" y="369" textLength="33.7">0.70490</text>
<text class="ax" x="1315" y="402" textLength="33.7">0.70130</text>
<rect x="1311" y="199" width="38" height="11" fill="#000"/>
<text class="ax" x="1315" y="208" textLength="33.7" style="fill:#fff;stroke:#fff">0.72236</text>
<text class="ax" x="1312.7" y="414" style="letter-spacing:-0.4px">100</text>
<text class="ax" x="1312.7" y="452" style="letter-spacing:-0.4px">70</text>
<text class="ax" x="1312.7" y="511" style="letter-spacing:-0.4px">30</text>
<text class="ax" x="1312.7" y="548" style="letter-spacing:-0.4px">0</text>
<text class="ax" x="5.3" y="564">12 Oct 2018</text>
<text class="ax" x="69.3" y="564" style="letter-spacing:-0.11px">16 Oct 22:00</text>
<text class="ax" x="133.3" y="564" style="letter-spacing:-0.11px">19 Oct 14:00</text>
<text class="ax" x="197.3" y="564" style="letter-spacing:-0.11px">24 Oct 04:00</text>
<text class="ax" x="261.3" y="564" style="letter-spacing:-0.11px">26 Oct 22:00</text>
<text class="ax" x="325.3" y="564" style="letter-spacing:-0.11px">31 Oct 14:00</text>
<text class="ax" x="389.3" y="564" style="letter-spacing:-0.11px">5 Nov 07:00</text>
<text class="ax" x="453.3" y="564" style="letter-spacing:-0.11px">7 Nov 23:00</text>
<text class="ax" x="517.3" y="564" style="letter-spacing:-0.11px">12 Nov 15:00</text>
<text class="ax" x="581.3" y="564" style="letter-spacing:-0.11px">15 Nov 04:00</text>
<text class="ax" x="645.3" y="564" style="letter-spacing:-0.11px">19 Nov 23:00</text>
<text class="ax" x="709.3" y="564" style="letter-spacing:-0.11px">22 Nov 15:00</text>
<text class="ax" x="773.3" y="564" style="letter-spacing:-0.11px">27 Nov 04:00</text>
<text class="ax" x="837.3" y="564" style="letter-spacing:-0.11px">29 Nov 23:00</text>
<text class="ax" x="901.3" y="564" style="letter-spacing:-0.11px">4 Dec 15:00</text>
<text class="ax" x="965.3" y="564" style="letter-spacing:-0.11px">7 Dec 04:00</text>
<text class="ax" x="1029.3" y="564" style="letter-spacing:-0.11px">11 Dec 23:00</text>
<path d="M12 37h1v1h-1zM11 38h3v1h-3zM10 39h5v1h-5zM9 40h7v1h-7z" fill="#000"/>
<text class="ax" x="21.3" y="42" textLength="55.8">AUDUSD,H4</text>
<text class="ax" x="83.2" y="42" textLength="33.7">0.72038</text>
<text class="ax" x="119" y="42" textLength="33.7">0.72295</text>
<text class="ax" x="155" y="42" textLength="33.7">0.71969</text>
<text class="ax" x="190.8" y="42" textLength="33.7">0.72236</text>
<text class="ax" x="10.3" y="415.2">RSI(14) 49.4463</text>
  </svg>
  <div id="panel">
    <div class="btn-top" style="left:0"><b style="transform:scaleX(0.89)">SELL</b><i></i></div>
    <div id="vol"><div class="spin dn" style="left:1px"></div><div id="volv">3.00</div><div class="spin up" style="right:1px"></div></div>
    <div class="btn-top" style="left:167px"><b style="transform:scaleX(0.99);margin-left:-2px">BUY</b><i></i></div>
    <div class="btn-low" style="left:0"><span class="sm" style="left:18.5px;top:19px">0.72</span><span class="big" style="left:46.2px;top:2.1px">23</span><span class="sup" style="left:86px;top:3.5px">6</span></div>
    <div class="btn-low" style="left:111px;width:108px"><span class="sm" style="left:17.5px;top:19px">0.72</span><span class="big" style="left:46.2px;top:2.1px">25</span><span class="sup" style="left:85.5px;top:3.5px">5</span></div>
  </div>
  <div id="bottom-line"></div>
  <div class="tabline" style="left:1px;width:99px"></div>
  <div class="tabline" style="left:1px;width:2px;top:575px"></div>
  <div class="tabline" style="left:99px;width:1px;top:575px"></div>
  <div class="tabline" style="left:190px;width:1px;top:575px"></div>
  <div class="tabline" style="left:190px;width:1159px"></div>
</div>
</body></html>
